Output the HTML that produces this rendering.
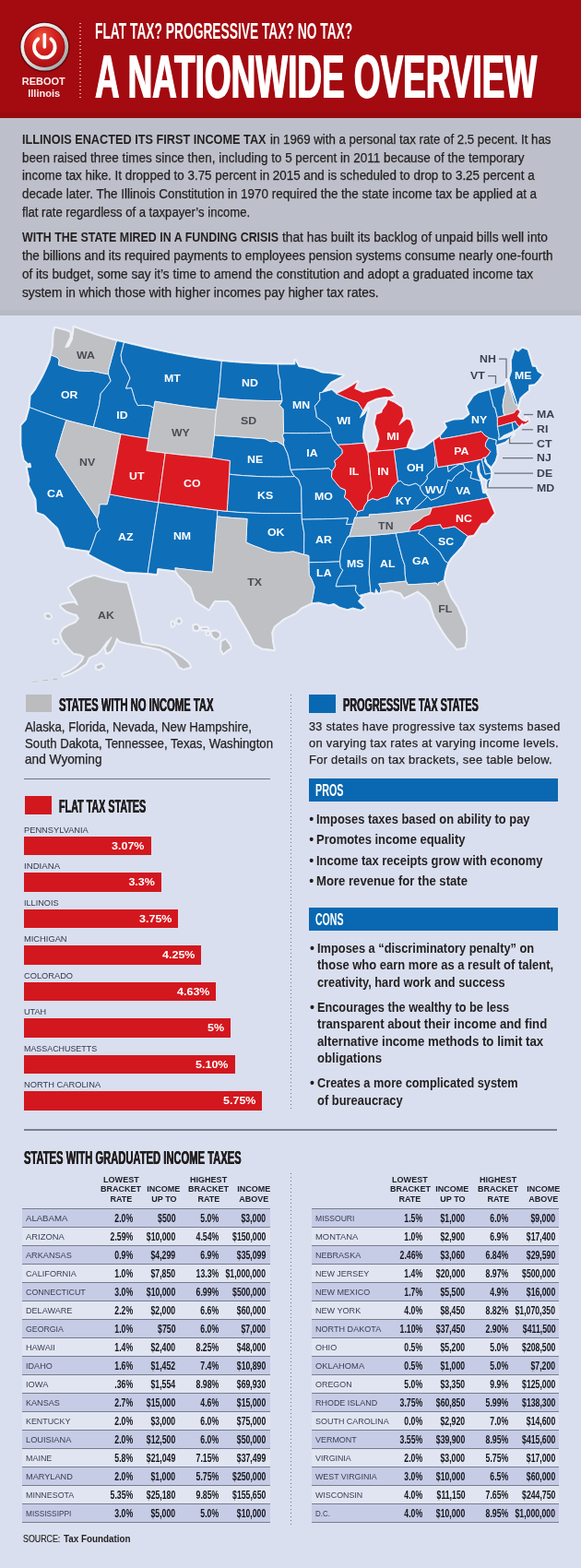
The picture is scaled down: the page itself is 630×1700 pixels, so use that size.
<!DOCTYPE html>
<html lang="en"><head><meta charset="utf-8"><title>Flat tax? Progressive tax? No tax? A nationwide overview</title>
<style>
html,body{margin:0;padding:0;}
body{width:630px;height:1700px;position:relative;overflow:hidden;background:#d9dfee;font-family:"Liberation Sans", sans-serif;color:#231f20;}
.t{position:absolute;white-space:pre;line-height:1;}
b{font-weight:700}
</style></head><body>
<div style="position:absolute;left:0px;top:0px;width:630px;height:127.6px;background:#a30b10;background:linear-gradient(to bottom,#a30b10 0,#a30b10 94.5%,#990a0e 96%,#990a0e 100%);"></div>
<div style="position:absolute;left:0px;top:127.5px;width:630px;height:214.6px;background:#bdc0ca;background:linear-gradient(to bottom,#bdc0ca 0,#bdc0ca 96.5%,#b7bac4 98%,#b7bac4 100%);"></div>
<div style="position:absolute;left:86.4px;top:25px;width:1.3px;height:82px;background:repeating-linear-gradient(to bottom,rgba(255,200,195,.8) 0 1.4px,transparent 1.4px 4px)"></div>
<svg style="position:absolute;left:18px;top:20px" width="62" height="62" viewBox="18 20 62 62">
<defs>
<radialGradient id="lg1" cx="0.42" cy="0.25" r="0.8"><stop offset="0" stop-color="#f0553c"/><stop offset="0.45" stop-color="#d4201f"/><stop offset="1" stop-color="#a50e13"/></radialGradient>
<linearGradient id="lg2" x1="0" y1="0" x2="1" y2="1"><stop offset="0" stop-color="#ffffff"/><stop offset="0.5" stop-color="#d9dcdd"/><stop offset="1" stop-color="#8f9496"/></linearGradient>
</defs>
<circle cx="48.3" cy="51" r="27.3" fill="#3a0405" opacity="0.6"/>
<circle cx="48.3" cy="50.7" r="25.9" fill="url(#lg2)"/>
<circle cx="48.3" cy="50.7" r="22.2" fill="#8d0b0f"/>
<circle cx="48.3" cy="50.7" r="21.4" fill="url(#lg1)"/>
<path d="M41.3 42.3 A11.3 11.3 0 1 0 55.3 42.3" fill="none" stroke="#fff" stroke-width="3.8" stroke-linecap="round"/>
<line x1="48.3" y1="37.6" x2="48.3" y2="51" stroke="#fff" stroke-width="3.6" stroke-linecap="round"/>
</svg>
<div style="position:absolute;left:27.8px;top:752.6px;width:28.4px;height:19.9px;background:#bbbcbe;"></div>
<div style="position:absolute;left:26.4px;top:844.3px;width:266.2px;height:1px;background:#6f7384;"></div>
<div style="position:absolute;left:27.1px;top:862.8px;width:29.1px;height:20.1px;background:#d3171e;"></div>
<div style="position:absolute;left:25.7px;top:906.6px;width:138.60000000000002px;height:20.6px;background:#d3171e;"></div>
<div style="position:absolute;left:25.7px;top:946.1px;width:149.3px;height:20.6px;background:#d3171e;"></div>
<div style="position:absolute;left:25.7px;top:985.6px;width:167.8px;height:20.6px;background:#d3171e;"></div>
<div style="position:absolute;left:25.7px;top:1025.1px;width:192.8px;height:20.6px;background:#d3171e;"></div>
<div style="position:absolute;left:25.7px;top:1064.6px;width:208.3px;height:20.6px;background:#d3171e;"></div>
<div style="position:absolute;left:25.7px;top:1104.1px;width:224.3px;height:20.6px;background:#d3171e;"></div>
<div style="position:absolute;left:25.7px;top:1143.6px;width:229.3px;height:20.6px;background:#d3171e;"></div>
<div style="position:absolute;left:25.7px;top:1183.1px;width:258.3px;height:20.6px;background:#d3171e;"></div>
<div style="position:absolute;left:335px;top:752.9px;width:29px;height:20.2px;background:#0968b1;"></div>
<div style="position:absolute;left:334.6px;top:844.3px;width:270.6px;height:24.8px;background:#0968b1;"></div>
<div style="position:absolute;left:334.6px;top:983.9px;width:270.6px;height:24.8px;background:#0968b1;"></div>
<div style="position:absolute;left:314.7px;top:753.3px;width:1.3px;height:449.5px;background:repeating-linear-gradient(to bottom,#6b7183 0 1.3px,transparent 1.3px 4px)"></div>
<div style="position:absolute;left:314.7px;top:1271.6px;width:1.3px;height:381px;background:repeating-linear-gradient(to bottom,#6b7183 0 1.3px,transparent 1.3px 4px)"></div>
<div style="position:absolute;left:26px;top:1224.4px;width:577.5px;height:1.3px;background:#7b7f8e;"></div>
<div style="position:absolute;left:24.3px;top:1310.4px;width:268.3px;height:20.0px;background:#c6cce5;"></div>
<div style="position:absolute;left:24.3px;top:1330.4px;width:268.3px;height:20.0px;background:#e0e5f1;"></div>
<div style="position:absolute;left:24.3px;top:1350.4px;width:268.3px;height:20.0px;background:#c6cce5;"></div>
<div style="position:absolute;left:24.3px;top:1370.4px;width:268.3px;height:20.0px;background:#e0e5f1;"></div>
<div style="position:absolute;left:24.3px;top:1390.4px;width:268.3px;height:20.0px;background:#c6cce5;"></div>
<div style="position:absolute;left:24.3px;top:1410.4px;width:268.3px;height:20.0px;background:#e0e5f1;"></div>
<div style="position:absolute;left:24.3px;top:1430.4px;width:268.3px;height:20.0px;background:#c6cce5;"></div>
<div style="position:absolute;left:24.3px;top:1450.4px;width:268.3px;height:20.0px;background:#e0e5f1;"></div>
<div style="position:absolute;left:24.3px;top:1470.4px;width:268.3px;height:20.0px;background:#c6cce5;"></div>
<div style="position:absolute;left:24.3px;top:1490.4px;width:268.3px;height:20.0px;background:#e0e5f1;"></div>
<div style="position:absolute;left:24.3px;top:1510.4px;width:268.3px;height:20.0px;background:#c6cce5;"></div>
<div style="position:absolute;left:24.3px;top:1530.4px;width:268.3px;height:20.0px;background:#e0e5f1;"></div>
<div style="position:absolute;left:24.3px;top:1550.4px;width:268.3px;height:20.0px;background:#c6cce5;"></div>
<div style="position:absolute;left:24.3px;top:1570.4px;width:268.3px;height:20.0px;background:#e0e5f1;"></div>
<div style="position:absolute;left:24.3px;top:1590.4px;width:268.3px;height:20.0px;background:#c6cce5;"></div>
<div style="position:absolute;left:24.3px;top:1610.4px;width:268.3px;height:20.0px;background:#e0e5f1;"></div>
<div style="position:absolute;left:24.3px;top:1630.4px;width:268.3px;height:20.0px;background:#c6cce5;"></div>
<div style="position:absolute;left:24.3px;top:1309.9px;width:268.3px;height:1px;background:#787c8e;"></div>
<div style="position:absolute;left:24.3px;top:1329.9px;width:268.3px;height:1px;background:#787c8e;"></div>
<div style="position:absolute;left:24.3px;top:1349.9px;width:268.3px;height:1px;background:#787c8e;"></div>
<div style="position:absolute;left:24.3px;top:1369.9px;width:268.3px;height:1px;background:#787c8e;"></div>
<div style="position:absolute;left:24.3px;top:1389.9px;width:268.3px;height:1px;background:#787c8e;"></div>
<div style="position:absolute;left:24.3px;top:1409.9px;width:268.3px;height:1px;background:#787c8e;"></div>
<div style="position:absolute;left:24.3px;top:1429.9px;width:268.3px;height:1px;background:#787c8e;"></div>
<div style="position:absolute;left:24.3px;top:1449.9px;width:268.3px;height:1px;background:#787c8e;"></div>
<div style="position:absolute;left:24.3px;top:1469.9px;width:268.3px;height:1px;background:#787c8e;"></div>
<div style="position:absolute;left:24.3px;top:1489.9px;width:268.3px;height:1px;background:#787c8e;"></div>
<div style="position:absolute;left:24.3px;top:1509.9px;width:268.3px;height:1px;background:#787c8e;"></div>
<div style="position:absolute;left:24.3px;top:1529.9px;width:268.3px;height:1px;background:#787c8e;"></div>
<div style="position:absolute;left:24.3px;top:1549.9px;width:268.3px;height:1px;background:#787c8e;"></div>
<div style="position:absolute;left:24.3px;top:1569.9px;width:268.3px;height:1px;background:#787c8e;"></div>
<div style="position:absolute;left:24.3px;top:1589.9px;width:268.3px;height:1px;background:#787c8e;"></div>
<div style="position:absolute;left:24.3px;top:1609.9px;width:268.3px;height:1px;background:#787c8e;"></div>
<div style="position:absolute;left:24.3px;top:1629.9px;width:268.3px;height:1px;background:#787c8e;"></div>
<div style="position:absolute;left:24.3px;top:1649.9px;width:268.3px;height:1px;background:#787c8e;"></div>
<div style="position:absolute;left:338.3px;top:1310.4px;width:267.99999999999994px;height:20.0px;background:#c6cce5;"></div>
<div style="position:absolute;left:338.3px;top:1330.4px;width:267.99999999999994px;height:20.0px;background:#e0e5f1;"></div>
<div style="position:absolute;left:338.3px;top:1350.4px;width:267.99999999999994px;height:20.0px;background:#c6cce5;"></div>
<div style="position:absolute;left:338.3px;top:1370.4px;width:267.99999999999994px;height:20.0px;background:#e0e5f1;"></div>
<div style="position:absolute;left:338.3px;top:1390.4px;width:267.99999999999994px;height:20.0px;background:#c6cce5;"></div>
<div style="position:absolute;left:338.3px;top:1410.4px;width:267.99999999999994px;height:20.0px;background:#e0e5f1;"></div>
<div style="position:absolute;left:338.3px;top:1430.4px;width:267.99999999999994px;height:20.0px;background:#c6cce5;"></div>
<div style="position:absolute;left:338.3px;top:1450.4px;width:267.99999999999994px;height:20.0px;background:#e0e5f1;"></div>
<div style="position:absolute;left:338.3px;top:1470.4px;width:267.99999999999994px;height:20.0px;background:#c6cce5;"></div>
<div style="position:absolute;left:338.3px;top:1490.4px;width:267.99999999999994px;height:20.0px;background:#e0e5f1;"></div>
<div style="position:absolute;left:338.3px;top:1510.4px;width:267.99999999999994px;height:20.0px;background:#c6cce5;"></div>
<div style="position:absolute;left:338.3px;top:1530.4px;width:267.99999999999994px;height:20.0px;background:#e0e5f1;"></div>
<div style="position:absolute;left:338.3px;top:1550.4px;width:267.99999999999994px;height:20.0px;background:#c6cce5;"></div>
<div style="position:absolute;left:338.3px;top:1570.4px;width:267.99999999999994px;height:20.0px;background:#e0e5f1;"></div>
<div style="position:absolute;left:338.3px;top:1590.4px;width:267.99999999999994px;height:20.0px;background:#c6cce5;"></div>
<div style="position:absolute;left:338.3px;top:1610.4px;width:267.99999999999994px;height:20.0px;background:#e0e5f1;"></div>
<div style="position:absolute;left:338.3px;top:1630.4px;width:267.99999999999994px;height:20.0px;background:#c6cce5;"></div>
<div style="position:absolute;left:338.3px;top:1309.9px;width:267.99999999999994px;height:1px;background:#787c8e;"></div>
<div style="position:absolute;left:338.3px;top:1329.9px;width:267.99999999999994px;height:1px;background:#787c8e;"></div>
<div style="position:absolute;left:338.3px;top:1349.9px;width:267.99999999999994px;height:1px;background:#787c8e;"></div>
<div style="position:absolute;left:338.3px;top:1369.9px;width:267.99999999999994px;height:1px;background:#787c8e;"></div>
<div style="position:absolute;left:338.3px;top:1389.9px;width:267.99999999999994px;height:1px;background:#787c8e;"></div>
<div style="position:absolute;left:338.3px;top:1409.9px;width:267.99999999999994px;height:1px;background:#787c8e;"></div>
<div style="position:absolute;left:338.3px;top:1429.9px;width:267.99999999999994px;height:1px;background:#787c8e;"></div>
<div style="position:absolute;left:338.3px;top:1449.9px;width:267.99999999999994px;height:1px;background:#787c8e;"></div>
<div style="position:absolute;left:338.3px;top:1469.9px;width:267.99999999999994px;height:1px;background:#787c8e;"></div>
<div style="position:absolute;left:338.3px;top:1489.9px;width:267.99999999999994px;height:1px;background:#787c8e;"></div>
<div style="position:absolute;left:338.3px;top:1509.9px;width:267.99999999999994px;height:1px;background:#787c8e;"></div>
<div style="position:absolute;left:338.3px;top:1529.9px;width:267.99999999999994px;height:1px;background:#787c8e;"></div>
<div style="position:absolute;left:338.3px;top:1549.9px;width:267.99999999999994px;height:1px;background:#787c8e;"></div>
<div style="position:absolute;left:338.3px;top:1569.9px;width:267.99999999999994px;height:1px;background:#787c8e;"></div>
<div style="position:absolute;left:338.3px;top:1589.9px;width:267.99999999999994px;height:1px;background:#787c8e;"></div>
<div style="position:absolute;left:338.3px;top:1609.9px;width:267.99999999999994px;height:1px;background:#787c8e;"></div>
<div style="position:absolute;left:338.3px;top:1629.9px;width:267.99999999999994px;height:1px;background:#787c8e;"></div>
<div style="position:absolute;left:338.3px;top:1649.9px;width:267.99999999999994px;height:1px;background:#787c8e;"></div>
<svg style="position:absolute;left:0;top:342px" width="630" height="400" viewBox="0 342 630 400">
<g fill="#fff" stroke="#fff" stroke-width="3.2" stroke-linejoin="round" opacity="0.55">
<path d="M55.4,385.0L58.3,386.1L61.1,387.2L64.2,389.9L63.5,395.7L67.5,397.0L71.6,398.3L75.6,399.5L80.1,400.7L84.6,401.8L88.4,402.1L92.2,402.3L96.0,402.6L99.2,402.1L102.8,402.9L106.5,403.6L110.2,404.4L113.9,405.1L117.6,405.8L120.2,413.0L117.6,416.3L115.1,419.6L112.2,423.2L109.2,426.7L108.3,433.7L107.5,439.2L105.9,445.2L104.4,451.2L102.8,457.1L101.3,463.0L96.4,461.8L91.4,460.6L86.5,459.3L81.5,458.1L76.7,456.8L71.8,455.5L67.3,454.1L62.8,452.7L58.3,451.2L53.9,449.7L49.5,448.1L45.1,446.6L40.8,445.0L36.4,443.3L32.1,441.7L32.6,435.5L33.1,429.3L35.7,426.0L38.2,422.8L41.4,417.1L44.6,411.5L46.9,407.0L49.1,402.4L51.7,396.5L54.2,390.6Z"/>
<path d="M32.1,441.7L36.4,443.3L40.8,445.0L45.1,446.6L49.5,448.1L53.9,449.7L58.3,451.2L62.8,452.7L67.3,454.1L71.8,455.5L69.8,462.0L67.8,468.4L65.9,474.8L64.0,481.2L62.2,487.7L60.4,494.2L64.2,500.4L68.2,506.6L72.3,512.8L76.4,519.0L80.6,525.2L84.7,531.4L88.9,537.5L93.1,543.7L97.2,549.8L101.2,555.9L105.3,562.2L106.0,566.6L106.7,571.2L108.6,573.9L104.5,578.0L102.0,585.7L99.8,591.6L97.6,597.4L92.2,596.8L86.8,596.0L81.4,595.1L76.1,594.1L70.7,593.1L69.7,590.2L67.3,584.2L64.8,578.1L62.4,572.1L59.5,569.4L56.6,566.7L52.3,562.5L48.1,558.3L43.9,556.8L39.8,555.2L39.3,548.1L38.9,541.1L36.2,535.7L33.6,530.3L31.0,525.0L32.1,520.9L30.6,513.8L29.2,506.8L33.7,506.7L32.8,502.0L30.4,502.7L26.1,498.5L24.5,491.0L23.0,483.5L22.9,476.2L22.9,468.9L22.9,461.5L25.6,458.4L28.3,455.2L30.2,448.5Z"/>
<path d="M126.4,369.4L130.4,370.3L134.5,371.2L132.8,377.9L131.1,384.7L131.7,388.8L132.3,392.9L135.0,397.1L137.2,401.6L139.5,406.0L141.0,410.0L139.4,413.9L137.8,417.9L136.6,421.1L139.6,420.8L142.5,420.5L144.0,425.3L145.4,430.1L146.4,433.9L149.4,439.6L152.2,439.4L155.0,439.1L158.9,439.5L162.8,439.9L166.8,442.4L165.6,449.1L164.4,455.8L163.3,462.4L162.1,469.0L161.0,475.5L156.0,474.8L151.0,474.1L146.0,473.3L141.0,472.5L136.0,471.6L131.1,470.6L126.1,469.4L121.2,468.2L116.2,466.9L111.3,465.6L106.3,464.3L101.3,463.0L102.8,457.1L104.4,451.2L105.9,445.2L107.5,439.2L108.3,433.7L109.2,426.7L112.2,423.2L115.1,419.6L117.6,416.3L120.2,413.0L117.6,405.8L117.6,401.4L119.4,395.0L121.1,388.5L122.9,382.1L124.6,375.7Z"/>
<path d="M134.5,371.2L138.7,372.2L143.0,373.3L147.3,374.3L151.6,375.3L155.9,376.4L160.3,377.4L164.7,378.4L169.1,379.4L173.5,380.3L177.9,381.2L182.4,382.2L186.8,383.0L191.3,383.9L195.8,384.7L200.2,385.5L204.7,386.3L209.2,387.0L213.6,387.8L218.1,388.5L222.6,389.1L227.0,389.7L231.5,390.3L235.9,390.9L240.4,391.4L239.9,397.1L239.4,402.8L239.0,408.5L238.5,414.2L238.0,419.9L237.4,425.6L236.7,431.5L235.7,437.8L234.7,444.3L230.0,443.8L225.4,443.3L220.7,442.8L216.0,442.3L211.2,441.7L206.4,441.1L201.7,440.4L196.9,439.8L192.1,439.1L187.3,438.3L182.5,437.6L177.7,436.8L172.9,436.0L168.1,435.2L167.4,438.8L166.8,442.4L162.8,439.9L158.9,439.5L155.0,439.1L152.2,439.4L149.4,439.6L146.4,433.9L145.4,430.1L144.0,425.3L142.5,420.5L139.6,420.8L136.6,421.1L137.8,417.9L139.4,413.9L141.0,410.0L139.5,406.0L137.2,401.6L135.0,397.1L132.3,392.9L131.7,388.8L131.1,384.7L132.8,377.9Z"/>
<path d="M118.9,535.9L124.3,536.9L129.6,537.9L134.9,538.9L140.1,539.8L145.4,540.7L150.7,541.5L156.0,542.3L161.3,543.1L166.6,543.9L171.9,544.6L170.9,551.0L169.9,557.4L168.9,563.9L167.9,570.3L166.9,576.8L166.0,583.2L165.0,589.7L164.0,596.1L163.0,602.5L162.1,608.8L161.1,615.2L160.2,621.6L155.4,621.3L150.7,621.0L145.9,620.8L141.1,620.5L136.4,620.3L131.2,618.1L126.1,615.8L120.9,613.5L115.9,611.1L110.8,608.7L105.8,606.1L100.9,603.4L96.0,600.5L97.6,597.4L99.8,591.6L102.0,585.7L104.5,578.0L108.6,573.9L106.7,571.2L106.0,566.6L105.3,562.2L107.5,555.1L107.7,550.9L107.9,546.7L112.0,546.7L116.1,546.8L117.5,541.3Z"/>
<path d="M171.9,544.6L176.8,545.3L181.7,546.0L186.6,546.6L191.6,547.3L196.5,548.0L201.4,548.6L206.4,549.3L211.3,550.0L216.2,550.7L221.2,551.3L226.1,552.0L231.1,552.6L236.0,553.2L235.5,559.9L235.0,566.6L234.4,573.2L233.9,579.9L233.4,586.6L232.8,593.3L232.3,600.1L231.8,606.8L231.2,613.6L230.7,620.3L225.6,619.9L220.5,619.4L215.4,618.9L210.3,618.3L205.2,617.7L200.1,617.1L195.0,616.5L189.9,615.8L190.6,619.0L185.7,618.3L180.8,617.7L175.9,617.1L170.9,616.5L170.1,622.6L165.2,622.1L160.2,621.6L161.1,615.2L162.1,608.8L163.0,602.5L164.0,596.1L165.0,589.7L166.0,583.2L166.9,576.8L167.9,570.3L168.9,563.9L169.9,557.4L170.9,551.0Z"/>
<path d="M240.4,391.4L244.7,391.8L249.1,392.2L253.4,392.6L257.8,392.9L262.1,393.2L266.5,393.5L270.8,393.7L275.1,394.0L279.5,394.2L283.8,394.4L288.2,394.5L292.5,394.7L296.9,394.8L301.3,394.9L301.6,400.0L302.0,405.2L302.9,409.0L303.9,412.9L303.9,417.4L304.0,421.9L304.8,425.9L305.6,429.8L305.9,434.7L301.2,434.6L296.6,434.6L291.9,434.6L287.3,434.5L282.7,434.4L278.1,434.3L273.5,434.1L268.8,433.9L264.2,433.7L259.7,433.4L255.1,433.1L250.5,432.7L245.9,432.3L241.3,431.9L236.7,431.5L237.4,425.6L238.0,419.9L238.5,414.2L239.0,408.5L239.4,402.8L239.9,397.1Z"/>
<path d="M232.4,471.8L236.9,472.2L241.3,472.5L245.7,472.8L250.2,473.1L254.7,473.4L259.3,473.7L263.9,474.1L268.5,474.4L273.1,474.7L277.8,475.1L282.4,475.4L287.1,475.7L290.1,477.2L293.2,478.8L296.7,478.6L300.3,478.4L305.4,481.4L308.0,483.6L309.9,487.7L311.8,491.8L312.8,495.9L313.7,499.9L314.6,506.5L315.3,509.4L317.3,513.5L319.6,516.6L314.7,516.8L309.7,516.9L304.7,517.0L299.6,517.0L294.5,516.9L289.3,516.8L284.2,516.7L279.0,516.5L273.9,516.2L268.8,515.9L263.7,515.6L258.6,515.2L253.6,514.7L248.6,514.1L248.9,506.8L249.3,499.5L244.3,498.8L239.3,498.0L234.4,497.2L229.5,496.4L230.2,490.1L231.0,484.0L231.7,478.0Z"/>
<path d="M248.6,514.1L253.6,514.7L258.6,515.2L263.7,515.6L268.8,515.9L273.9,516.2L279.0,516.5L284.2,516.7L289.3,516.8L294.5,516.9L299.6,517.0L304.7,517.0L309.7,516.9L314.7,516.8L319.6,516.6L323.7,519.8L325.2,524.1L326.8,528.4L326.8,534.0L326.9,539.6L327.0,545.2L327.1,550.8L327.2,556.5L321.7,556.5L316.2,556.6L310.8,556.6L305.3,556.6L299.9,556.6L294.5,556.6L289.1,556.6L283.7,556.5L278.3,556.3L272.9,556.1L267.5,555.9L262.2,555.6L256.8,555.3L251.5,554.8L246.2,554.3L246.6,547.7L247.0,541.1L247.4,534.5L247.8,527.8L248.2,521.1Z"/>
<path d="M236.0,553.2L241.1,553.8L246.2,554.3L251.5,554.8L256.8,555.3L262.2,555.6L267.5,555.9L272.9,556.1L278.3,556.3L283.7,556.5L289.1,556.6L294.5,556.6L299.9,556.6L305.3,556.6L310.8,556.6L316.2,556.6L321.7,556.5L327.2,556.5L327.3,563.1L328.1,568.0L328.9,572.9L329.8,577.8L329.8,583.7L329.7,589.6L329.7,595.4L329.7,601.3L325.7,600.2L321.8,599.0L317.9,597.9L312.1,598.6L306.4,599.2L302.3,599.2L298.3,599.1L294.3,598.4L290.3,597.6L286.9,596.2L283.6,594.8L279.6,593.3L275.7,591.9L271.3,590.0L266.8,588.0L267.1,581.6L267.4,575.2L267.7,568.9L268.0,562.5L262.5,562.2L257.1,561.9L251.7,561.5L246.3,561.0L240.9,560.5L235.5,559.9Z"/>
<path d="M301.3,394.9L305.0,395.0L308.7,395.0L312.4,395.0L316.2,395.0L319.9,395.0L320.0,390.1L322.0,393.8L324.0,397.6L327.8,398.2L331.7,398.9L335.6,399.5L339.5,400.1L344.1,402.0L348.8,403.9L352.5,404.3L356.2,404.6L360.0,405.0L364.1,405.7L368.2,406.4L372.3,407.1L367.7,409.6L363.1,412.0L358.5,414.4L355.4,418.1L352.3,421.7L349.2,425.4L346.6,425.9L346.7,429.7L346.9,433.5L344.2,437.0L341.4,440.4L342.2,444.6L343.0,448.7L343.2,452.2L347.5,455.3L351.8,458.3L355.0,461.0L358.1,463.7L359.2,469.1L354.5,469.3L349.8,469.4L345.1,469.5L340.4,469.6L335.7,469.6L331.1,469.7L326.4,469.7L321.7,469.7L317.0,469.7L312.3,469.6L307.6,469.6L307.4,463.1L307.2,456.6L307.1,450.2L307.0,443.7L303.2,439.4L305.9,434.7L305.6,429.8L304.8,425.9L304.0,421.9L303.9,417.4L303.9,412.9L302.9,409.0L302.0,405.2L301.6,400.0Z"/>
<path d="M307.6,469.6L312.3,469.6L317.0,469.7L321.7,469.7L326.4,469.7L331.1,469.7L335.7,469.6L340.4,469.6L345.1,469.5L349.8,469.4L354.5,469.3L359.2,469.1L360.9,475.8L366.0,482.3L371.0,487.4L371.3,491.4L367.5,495.6L362.6,499.8L363.9,503.7L363.1,506.4L360.0,510.8L356.6,507.9L351.9,508.1L347.3,508.3L342.7,508.4L338.0,508.6L333.4,508.7L328.9,508.9L324.3,509.0L319.8,509.2L315.3,509.4L314.6,506.5L313.7,499.9L312.8,495.9L311.8,491.8L309.9,487.7L308.0,483.6L307.4,480.7L307.8,476.6L306.2,472.3Z"/>
<path d="M315.3,509.4L319.8,509.2L324.3,509.0L328.9,508.9L333.4,508.7L338.0,508.6L342.7,508.4L347.3,508.3L351.9,508.1L356.6,507.9L360.0,510.8L359.5,517.2L361.3,519.7L365.0,524.2L368.8,528.7L374.4,531.1L374.7,534.5L373.4,539.2L378.6,543.0L381.1,546.8L383.7,550.7L387.9,554.5L386.6,559.3L384.6,561.4L383.7,564.9L382.9,568.3L379.1,568.4L375.4,568.6L377.3,561.8L371.8,562.1L366.2,562.3L360.7,562.5L355.1,562.6L349.5,562.8L344.0,562.9L338.4,563.0L332.8,563.1L327.3,563.1L327.2,556.5L327.1,550.8L327.0,545.2L326.9,539.6L326.8,534.0L326.8,528.4L325.2,524.1L323.7,519.8L319.6,516.6L317.3,513.5Z"/>
<path d="M327.3,563.1L332.8,563.1L338.4,563.0L344.0,562.9L349.5,562.8L355.1,562.6L360.7,562.5L366.2,562.3L371.8,562.1L377.3,561.8L375.4,568.6L379.1,568.4L382.9,568.3L381.0,573.7L379.2,580.5L377.0,581.9L374.0,588.7L371.9,592.8L369.8,596.9L369.2,602.9L368.5,608.9L362.9,609.1L357.3,609.3L351.7,609.5L346.1,609.6L340.5,609.7L334.9,609.8L334.9,606.1L334.8,602.5L329.7,601.3L329.7,595.4L329.7,589.6L329.8,583.7L329.8,577.8L328.9,572.9L328.1,568.0Z"/>
<path d="M334.9,609.8L340.5,609.7L346.1,609.6L351.7,609.5L357.3,609.3L362.9,609.1L368.5,608.9L369.4,615.6L371.8,618.1L369.0,623.2L366.3,628.4L365.2,632.1L364.2,635.8L369.7,635.6L375.2,635.3L380.6,635.0L386.1,634.8L385.5,640.1L389.0,645.5L391.7,647.8L388.4,652.0L392.1,655.5L395.8,659.0L391.2,661.3L387.0,660.2L382.7,659.0L376.8,660.7L372.6,659.5L368.4,658.3L362.3,654.5L356.4,655.7L351.0,654.3L345.6,653.0L341.7,653.4L337.8,653.8L338.7,649.8L339.5,645.7L340.3,641.1L341.1,636.4L339.6,632.4L338.1,628.4L335.2,623.3L335.1,618.8L335.0,614.3Z"/>
<path d="M377.0,581.9L374.0,588.7L371.9,592.8L369.8,596.9L369.2,602.9L368.5,608.9L369.4,615.6L371.8,618.1L369.0,623.2L366.3,628.4L365.2,632.1L364.2,635.8L369.7,635.6L375.2,635.3L380.6,635.0L386.1,634.8L385.5,640.1L389.0,645.5L393.4,644.4L397.7,643.3L402.0,642.1L401.5,637.1L401.0,632.0L400.6,626.9L400.1,621.8L400.4,615.2L400.8,608.5L401.1,601.9L401.4,595.2L401.7,588.5L401.9,581.8L400.7,580.6L396.0,580.9L391.3,581.2L386.6,581.5L381.8,581.7Z"/>
<path d="M400.7,580.6L401.9,581.8L401.7,588.5L401.4,595.2L401.1,601.9L400.8,608.5L400.4,615.2L400.1,621.8L400.6,626.9L401.0,632.0L401.5,637.1L402.0,642.1L406.7,643.4L407.6,638.6L410.2,643.1L412.3,642.5L413.4,638.1L410.7,633.0L415.7,632.6L420.7,632.1L425.6,631.6L430.6,631.1L435.5,630.6L440.4,630.1L439.3,623.5L439.1,618.1L438.9,612.8L437.6,609.2L436.2,605.5L434.8,600.0L433.4,594.5L431.9,589.0L430.5,583.5L429.0,577.9L424.3,578.5L419.6,579.0L414.9,579.4L410.2,579.8L405.5,580.2Z"/>
<path d="M387.9,554.5L390.8,553.7L393.8,552.8L395.0,548.7L398.8,543.0L404.0,540.5L409.0,542.1L412.1,540.7L415.2,539.4L420.5,538.1L422.7,534.2L425.7,528.0L428.6,524.9L431.4,521.8L434.6,521.4L438.2,525.0L443.7,526.2L447.3,525.1L450.9,524.0L455.6,527.5L456.0,530.4L460.0,536.6L463.7,538.2L460.3,541.8L456.8,545.3L452.0,549.5L447.3,553.7L442.6,554.3L437.9,554.8L433.2,555.4L427.8,555.9L422.5,556.4L417.1,556.9L412.9,557.2L408.7,557.5L404.5,557.7L400.3,558.0L400.6,560.4L395.3,560.8L389.9,561.1L384.6,561.4L386.6,559.3Z"/>
<path d="M427.1,487.5L431.7,486.7L436.3,486.0L440.9,485.2L445.0,486.5L449.1,487.8L454.1,486.7L459.2,485.6L462.9,482.9L466.6,480.2L470.2,477.6L471.1,483.3L472.0,489.0L472.9,494.8L471.7,495.5L472.1,502.0L471.3,507.5L468.5,509.9L465.7,512.4L463.0,515.6L463.5,518.9L459.4,524.4L455.6,527.5L450.9,524.0L447.3,525.1L443.7,526.2L438.2,525.0L434.6,521.4L431.4,521.8L430.7,516.1L430.0,510.3L429.3,504.6L428.5,498.9L427.8,493.2Z"/>
<path d="M349.2,425.4L352.7,424.4L356.3,423.4L359.8,422.5L364.6,426.8L369.0,428.7L373.4,430.7L377.8,432.6L382.8,434.3L387.8,436.0L391.3,441.2L393.6,445.1L392.0,449.0L390.3,452.9L395.0,449.1L399.3,442.6L398.2,447.4L397.0,452.3L395.8,457.2L394.3,462.7L393.8,468.2L393.3,473.6L394.2,477.0L395.1,480.3L390.2,480.7L385.3,481.1L380.5,481.5L375.6,481.8L370.8,482.1L366.0,482.3L360.9,475.8L359.2,469.1L358.1,463.7L355.0,461.0L351.8,458.3L347.5,455.3L343.2,452.2L343.0,448.7L342.2,444.6L341.4,440.4L344.2,437.0L346.9,433.5L346.7,429.7L346.6,425.9Z"/>
<path d="M429.0,577.9L433.6,577.4L438.2,576.8L442.8,576.1L447.2,575.5L451.6,574.9L456.0,574.2L453.8,578.6L459.0,581.2L462.2,584.8L465.4,588.4L471.0,593.0L476.7,598.3L479.6,603.3L482.6,608.3L485.7,610.2L484.3,614.7L482.9,619.2L482.1,624.1L481.3,628.9L478.3,630.5L475.3,632.0L475.1,634.6L473.0,632.0L467.9,632.4L462.8,632.7L457.7,633.1L452.6,633.4L447.5,633.6L442.4,633.9L440.4,630.1L439.3,623.5L439.1,618.1L438.9,612.8L437.6,609.2L436.2,605.5L434.8,600.0L433.4,594.5L431.9,589.0L430.5,583.5Z"/>
<path d="M456.0,574.2L459.6,572.3L463.2,570.4L468.0,569.8L472.9,569.3L477.7,568.7L477.9,570.0L480.0,573.1L484.4,572.4L488.7,571.6L493.1,570.8L497.8,574.3L502.5,577.8L507.3,581.2L504.4,586.3L501.6,591.4L498.2,595.1L494.8,598.8L492.1,601.6L489.4,604.5L485.7,610.2L482.6,608.3L479.6,603.3L476.7,598.3L471.0,593.0L465.4,588.4L462.2,584.8L459.0,581.2L453.8,578.6Z"/>
<path d="M463.7,538.2L467.3,542.2L470.8,541.0L474.3,539.7L477.7,537.7L481.2,535.7L482.7,530.5L484.3,525.3L485.8,520.2L489.7,521.7L493.4,516.4L495.8,514.4L498.2,512.3L500.7,511.0L503.2,509.7L503.9,507.0L508.9,511.0L511.7,511.8L510.1,518.2L514.5,519.4L517.9,520.4L521.2,521.4L522.2,526.6L522.9,530.6L523.7,534.6L527.0,534.8L529.5,539.5L524.4,540.6L519.4,541.6L514.3,542.5L509.2,543.5L504.1,544.4L499.1,545.3L494.0,546.2L488.9,547.1L483.8,547.9L478.7,548.8L473.6,549.6L468.4,550.4L463.2,551.3L457.9,552.1L452.6,552.9L447.3,553.7L452.0,549.5L456.8,545.3L460.3,541.8ZM527.0,532.2L527.7,526.4L528.3,520.6L532.0,518.7L530.8,522.5L529.7,526.4Z"/>
<path d="M472.9,494.8L473.8,500.7L474.7,506.6L478.2,506.0L481.8,505.5L485.3,504.9L485.8,508.3L486.3,511.7L490.7,507.6L495.5,504.8L498.3,503.2L502.5,503.5L503.9,507.0L503.2,509.7L500.7,511.0L498.2,512.3L495.8,514.4L493.4,516.4L489.7,521.7L485.8,520.2L484.3,525.3L482.7,530.5L481.2,535.7L477.7,537.7L474.3,539.7L470.8,541.0L467.3,542.2L463.7,538.2L460.0,536.6L456.0,530.4L455.6,527.5L459.4,524.4L463.5,518.9L463.0,515.6L465.7,512.4L468.5,509.9L471.3,507.5L472.1,502.0L471.7,495.5Z"/>
<path d="M485.3,504.9L490.0,504.1L494.6,503.3L499.3,502.5L503.9,501.7L508.5,500.8L513.2,499.9L517.7,498.9L522.4,497.9L523.6,503.3L524.9,508.7L526.2,514.1L529.5,513.4L532.9,512.8L532.0,518.7L528.3,520.6L523.8,518.1L520.1,512.1L519.6,506.8L519.8,502.1L517.4,505.9L517.8,509.9L518.3,513.8L519.7,517.6L521.2,521.4L517.9,520.4L514.5,519.4L510.1,518.2L511.7,511.8L508.9,511.0L503.9,507.0L502.5,503.5L498.3,503.2L495.5,504.8L490.7,507.6L486.3,511.7L485.8,508.3Z"/>
<path d="M522.4,497.9L524.0,496.1L526.1,496.1L525.3,500.3L527.5,503.8L531.5,508.3L532.9,512.8L529.5,513.4L526.2,514.1L524.9,508.7L523.6,503.3Z"/>
<path d="M529.8,474.6L534.0,475.9L538.3,477.1L537.8,481.3L538.6,484.4L538.9,488.7L539.2,493.0L537.2,499.6L535.0,502.9L532.7,506.3L528.2,502.3L526.1,496.1L528.6,494.2L531.8,489.5L526.3,484.1L526.6,480.1Z"/>
<path d="M530.7,422.4L526.6,423.7L522.5,424.9L518.5,426.0L516.0,427.8L513.5,429.5L509.9,435.0L506.2,440.5L507.7,444.8L509.2,449.0L505.8,451.8L502.3,454.4L497.3,454.8L492.2,455.0L488.8,456.1L485.5,457.2L482.1,458.3L484.6,463.5L481.0,468.0L477.3,472.6L477.9,476.1L482.8,475.2L487.7,474.4L492.7,473.5L497.6,472.6L502.5,471.7L507.4,470.8L512.3,469.8L517.2,468.8L522.0,467.8L525.8,472.2L529.8,474.6L534.0,475.9L538.3,477.1L537.8,481.3L538.3,482.5L543.1,480.9L547.8,479.2L551.1,476.4L554.4,473.5L557.6,470.5L554.2,472.4L550.8,474.2L547.5,475.2L544.2,476.2L540.8,477.1L540.7,476.5L541.3,472.2L540.4,467.3L539.4,462.3L539.4,457.4L539.3,452.5L538.0,447.1L536.7,441.8L535.2,441.5L533.7,435.1L532.2,428.8Z"/>
<path d="M530.7,422.4L534.8,421.2L539.0,420.0L543.1,418.7L547.3,417.4L547.8,420.9L548.3,424.5L546.0,432.4L545.1,439.9L545.9,446.9L546.7,450.5L543.0,451.5L539.3,452.5L538.0,447.1L536.7,441.8L535.2,441.5L533.7,435.1L532.2,428.8Z"/>
<path d="M550.0,412.3L552.1,418.9L554.1,425.5L556.0,431.4L557.9,437.3L561.6,440.7L559.7,434.6L557.8,428.5L555.9,422.4L554.0,416.3L552.1,410.2L554.7,402.2L554.5,396.5L554.3,390.8L556.3,384.7L558.2,378.6L562.0,381.1L564.3,379.1L566.5,377.2L569.4,378.3L572.2,379.4L573.9,385.3L575.7,391.2L577.4,397.2L580.9,397.4L583.2,403.1L588.2,406.0L586.1,409.1L584.0,412.2L581.7,414.5L579.5,416.8L576.6,417.1L573.7,417.4L573.5,423.3L570.3,425.8L567.1,428.4L564.0,431.6L562.6,437.1L561.6,440.7L559.3,435.0L557.0,429.3L554.6,423.7L552.3,418.0Z"/>
<path d="M539.4,462.3L543.4,461.3L547.3,460.2L551.2,459.1L555.1,458.0L556.0,462.6L556.8,467.3L553.4,468.9L549.9,470.5L546.3,472.1L543.5,474.3L540.7,476.5L541.3,472.2L540.4,467.3Z"/>
<path d="M555.1,458.0L559.0,456.7L559.4,458.3L563.1,462.8L560.0,465.6L556.8,467.3L556.0,462.6Z"/>
<path d="M80.2,354.4L79.6,360.1L79.0,364.2L78.3,368.4L76.4,372.1L74.5,375.8L70.7,376.6L73.4,370.9L76.1,365.3L76.1,360.2L73.2,359.0L70.4,357.9L66.8,357.1L63.3,356.2L59.7,355.4L58.1,361.9L57.8,368.5L57.6,375.2L56.5,380.1L55.4,385.0L58.3,386.1L61.1,387.2L64.2,389.9L63.5,395.7L67.5,397.0L71.6,398.3L75.6,399.5L80.1,400.7L84.6,401.8L88.4,402.1L92.2,402.3L96.0,402.6L99.2,402.1L102.8,402.9L106.5,403.6L110.2,404.4L113.9,405.1L117.6,405.8L117.6,401.4L119.4,395.0L121.1,388.5L122.9,382.1L124.6,375.7L126.4,369.4L122.5,368.4L118.6,367.3L114.8,366.2L111.0,365.1L107.2,363.9L103.4,362.7L99.6,361.4L95.8,360.1L91.9,358.8L88.1,357.4L84.2,355.9Z"/>
<path d="M71.8,455.5L76.7,456.8L81.5,458.1L86.5,459.3L91.4,460.6L96.4,461.8L101.3,463.0L106.3,464.3L111.3,465.6L116.2,466.9L121.2,468.2L126.1,469.4L131.1,470.6L129.8,477.1L128.5,483.6L127.4,490.0L126.2,496.5L125.1,502.9L123.9,509.5L122.8,516.0L121.6,522.6L120.3,529.2L118.9,535.9L117.5,541.3L116.1,546.8L112.0,546.7L107.9,546.7L107.7,550.9L107.5,555.1L105.3,562.2L101.2,555.9L97.2,549.8L93.1,543.7L88.9,537.5L84.7,531.4L80.6,525.2L76.4,519.0L72.3,512.8L68.2,506.6L64.2,500.4L60.4,494.2L62.2,487.7L64.0,481.2L65.9,474.8L67.8,468.4L69.8,462.0Z"/>
<path d="M168.1,435.2L172.9,436.0L177.7,436.8L182.5,437.6L187.3,438.3L192.1,439.1L196.9,439.8L201.7,440.4L206.4,441.1L211.2,441.7L216.0,442.3L220.7,442.8L225.4,443.3L230.0,443.8L234.7,444.3L234.0,451.3L233.4,458.3L233.0,465.2L232.4,471.8L231.7,478.0L231.0,484.0L230.2,490.1L229.5,496.4L224.5,495.9L219.6,495.4L214.6,494.9L209.6,494.5L204.5,494.0L199.5,493.5L194.4,493.0L189.4,492.4L184.3,491.8L179.2,491.3L174.2,490.6L169.1,490.0L164.0,489.3L158.9,488.6L160.0,482.1L161.0,475.5L162.1,469.0L163.3,462.4L164.4,455.8L165.6,449.1L166.8,442.4L167.4,438.8Z"/>
<path d="M236.7,431.5L241.3,431.9L245.9,432.3L250.5,432.7L255.1,433.1L259.7,433.4L264.2,433.7L268.8,433.9L273.5,434.1L278.1,434.3L282.7,434.4L287.3,434.5L291.9,434.6L296.6,434.6L301.2,434.6L305.9,434.7L303.2,439.4L307.0,443.7L307.1,450.2L307.2,456.6L307.4,463.1L307.6,469.6L306.2,472.3L307.8,476.6L307.4,480.7L308.0,483.6L305.4,481.4L300.3,478.4L296.7,478.6L293.2,478.8L290.1,477.2L287.1,475.7L282.4,475.4L277.8,475.1L273.1,474.7L268.5,474.4L263.9,474.1L259.3,473.7L254.7,473.4L250.2,473.1L245.7,472.8L241.3,472.5L236.9,472.2L232.4,471.8L232.9,465.3L233.4,458.5L233.9,451.7L234.6,444.8L235.7,438.1Z"/>
<path d="M235.5,559.9L240.9,560.5L246.3,561.0L251.7,561.5L257.1,561.9L262.5,562.2L268.0,562.5L267.7,568.9L267.4,575.2L267.1,581.6L266.8,588.0L271.3,590.0L275.7,591.9L279.6,593.3L283.6,594.8L286.9,596.2L290.3,597.6L294.3,598.4L298.3,599.1L302.3,599.2L306.4,599.2L312.1,598.6L317.9,597.9L321.8,599.0L325.7,600.2L329.7,601.3L334.8,602.5L334.9,606.1L334.9,609.8L335.0,614.3L335.1,618.8L335.2,623.3L338.1,628.4L339.6,632.4L341.1,636.4L340.3,641.1L339.5,645.7L338.7,649.8L337.8,653.8L332.2,656.5L326.5,659.2L320.5,664.6L316.1,666.8L311.6,669.0L307.2,671.2L302.3,675.2L297.3,679.2L294.7,685.8L295.2,691.2L295.7,696.6L296.5,700.6L297.4,704.6L293.0,704.1L288.7,703.6L284.4,703.1L280.1,700.7L275.9,698.3L273.1,692.5L270.2,686.7L266.5,680.3L262.7,674.0L259.0,667.6L256.3,662.5L253.6,657.3L248.0,651.4L242.8,651.5L237.7,651.5L232.6,651.4L229.5,656.1L226.4,660.9L221.5,657.6L216.6,654.4L211.7,651.1L210.0,646.2L208.4,641.3L206.7,636.3L202.4,632.2L198.1,628.1L193.9,623.9L190.6,619.0L189.9,615.8L195.0,616.5L200.1,617.1L205.2,617.7L210.3,618.3L215.4,618.9L220.5,619.4L225.6,619.9L230.7,620.3L231.2,613.6L231.8,606.8L232.3,600.1L232.8,593.3L233.4,586.6L233.9,579.9L234.4,573.2L235.0,566.6Z"/>
<path d="M384.6,561.4L389.9,561.1L395.3,560.8L400.6,560.4L400.3,558.0L404.5,557.7L408.7,557.5L412.9,557.2L417.1,556.9L422.5,556.4L427.8,555.9L433.2,555.4L437.9,554.8L442.6,554.3L447.3,553.7L452.6,552.9L457.9,552.1L463.2,551.3L468.4,550.4L465.9,557.6L462.8,558.8L459.7,560.0L454.8,564.2L451.8,566.0L448.7,567.8L445.7,570.3L442.8,576.1L438.2,576.8L433.6,577.4L429.0,577.9L424.3,578.5L419.6,579.0L414.9,579.4L410.2,579.8L405.5,580.2L400.7,580.6L396.0,580.9L391.3,581.2L386.6,581.5L381.8,581.7L377.0,581.9L379.2,580.5L381.0,573.7L382.9,568.3L383.7,564.9Z"/>
<path d="M412.3,642.5L416.2,641.8L420.1,641.0L424.0,640.1L429.3,641.5L434.6,642.9L438.0,648.2L443.1,645.8L448.1,643.4L453.1,640.9L456.9,643.9L460.7,646.8L466.1,653.1L467.7,658.4L469.4,663.7L471.0,669.0L474.3,674.6L477.6,680.1L480.9,685.7L485.4,692.0L490.4,697.8L495.6,703.6L499.8,702.7L504.0,701.7L504.9,697.4L505.8,693.1L505.6,686.9L505.5,680.7L503.1,675.2L500.7,669.7L498.3,664.2L496.0,658.7L492.6,653.6L489.2,648.6L486.9,643.4L484.7,638.2L482.4,633.0L481.3,628.9L478.3,630.5L475.3,632.0L475.1,634.6L473.0,632.0L467.9,632.4L462.8,632.7L457.7,633.1L452.6,633.4L447.5,633.6L442.4,633.9L440.4,630.1L435.5,630.6L430.6,631.1L425.6,631.6L420.7,632.1L415.7,632.6L410.7,633.0L413.4,638.1Z"/>
<path d="M547.3,417.4L547.8,420.9L548.3,424.5L546.0,432.4L545.1,439.9L545.9,446.9L546.7,450.5L550.3,449.5L553.9,448.5L557.4,447.5L559.6,444.4L561.2,443.8L561.6,440.7L557.9,437.3L556.0,431.4L554.1,425.5L552.1,418.9L550.0,412.3Z"/>
<path d="M74.4,637.2L82.2,631.7L92.2,627.2L102.2,624.3L112.2,627.2L123.3,630.1L137.8,632.3L142.2,648.3L146.7,666.1L151.1,683.9L153.3,696.8L160.0,698.8L172.2,700.3L181.1,703.2L188.9,707.7L197.8,713.2L204.4,718.8L206.7,723.2L198.9,725.4L194.4,723.2L190.0,715.4L183.3,708.8L174.4,704.3L163.3,701.7L150.0,699.4L138.9,697.7L130.0,695.4L126.7,691.7L124.4,698.3L120.0,706.1L115.6,708.3L114.4,702.8L118.9,695.0L121.1,690.6L115.6,696.1L110.0,703.9L104.4,709.4L96.7,712.8L93.3,719.4L85.6,725.0L77.8,729.4L68.9,732.8L67.8,731.0L75.6,727.9L83.3,722.8L88.9,717.2L91.1,711.7L86.7,709.4L80.0,708.3L75.6,703.9L71.1,698.3L67.8,693.9L65.6,687.2L68.9,681.7L74.4,678.3L82.2,675.0L85.6,670.6L83.3,666.6L77.8,665.0L72.2,662.8L66.7,658.3L65.6,656.1L73.3,653.9L80.0,653.2L84.4,656.1L82.2,650.6L77.8,643.9ZM48.9,666.1L53.3,665.7L55.6,668.3L53.3,670.6L49.6,669.4ZM57.8,693.9L62.2,693.9L62.9,696.8L58.9,697.2ZM104.4,721.7L110.4,719.9L112.2,722.8L107.8,725.7L104.4,725.0Z"/>
<path d="M186.0,674.4L188.2,674.0L188.9,678.2L186.7,679.3ZM191.8,671.6L195.1,670.7L196.7,673.8L194.4,676.2L191.8,675.1ZM209.6,678.2L213.3,677.3L216.0,680.0L214.9,683.3L210.4,683.3ZM218.4,680.4L225.1,680.4L225.6,682.7L218.9,682.9ZM224.0,685.6L226.7,685.1L227.1,687.8L224.4,688.2ZM228.9,684.9L234.0,684.0L238.0,686.2L238.4,690.0L234.4,692.9L231.1,690.7L229.6,687.8ZM240.0,695.6L244.4,693.3L248.9,698.9L250.4,702.7L245.6,705.6L242.2,708.9L239.6,704.4Z"/>
<path d="M131.1,470.6L136.0,471.6L141.0,472.5L146.0,473.3L151.0,474.1L156.0,474.8L161.0,475.5L160.0,482.1L158.9,488.6L164.0,489.3L169.1,490.0L174.2,490.6L179.2,491.3L178.3,497.8L177.4,504.4L176.5,511.0L175.6,517.7L174.7,524.4L173.8,531.1L172.8,537.9L171.9,544.6L166.6,543.9L161.3,543.1L156.0,542.3L150.7,541.5L145.4,540.7L140.1,539.8L134.9,538.9L129.6,537.9L124.3,536.9L118.9,535.9L120.3,529.2L121.6,522.6L122.8,516.0L123.9,509.5L125.1,502.9L126.2,496.5L127.4,490.0L128.5,483.6L129.8,477.1Z"/>
<path d="M179.2,491.3L184.3,491.8L189.4,492.4L194.4,493.0L199.5,493.5L204.5,494.0L209.6,494.5L214.6,494.9L219.6,495.4L224.5,495.9L229.5,496.4L234.4,497.2L239.3,498.0L244.3,498.8L249.3,499.5L248.9,506.8L248.6,514.1L248.2,521.1L247.8,527.8L247.4,534.5L247.0,541.1L246.6,547.7L246.2,554.3L241.1,553.8L236.0,553.2L231.1,552.6L226.1,552.0L221.2,551.3L216.2,550.7L211.3,550.0L206.4,549.3L201.4,548.6L196.5,548.0L191.6,547.3L186.6,546.6L181.7,546.0L176.8,545.3L171.9,544.6L172.8,537.9L173.8,531.1L174.7,524.4L175.6,517.7L176.5,511.0L177.4,504.4L178.3,497.8Z"/>
<path d="M366.0,482.3L370.8,482.1L375.6,481.8L380.5,481.5L385.3,481.1L390.2,480.7L395.1,480.3L396.5,484.2L397.9,488.0L399.0,490.4L399.7,496.7L400.3,503.0L401.0,509.2L401.6,515.5L402.3,521.8L402.8,525.8L403.4,529.8L399.2,536.2L398.8,543.0L395.0,548.7L393.8,552.8L390.8,553.7L387.9,554.5L383.7,550.7L381.1,546.8L378.6,543.0L373.4,539.2L374.7,534.5L374.4,531.1L368.8,528.7L365.0,524.2L361.3,519.7L359.5,517.2L360.0,510.8L363.1,506.4L363.9,503.7L362.6,499.8L367.5,495.6L371.3,491.4L371.0,487.4Z"/>
<path d="M399.0,490.4L402.6,489.8L406.2,489.1L410.4,488.8L414.5,488.5L418.7,488.2L422.9,487.8L427.1,487.5L427.8,493.2L428.5,498.9L429.3,504.6L430.0,510.3L430.7,516.1L431.4,521.8L428.6,524.9L425.7,528.0L422.7,534.2L420.5,538.1L415.2,539.4L412.1,540.7L409.0,542.1L404.0,540.5L398.8,543.0L399.2,536.2L403.4,529.8L402.8,525.8L402.3,521.8L401.6,515.5L401.0,509.2L400.3,503.0L399.7,496.7Z"/>
<path d="M440.9,485.2L442.1,481.3L443.4,477.3L446.0,472.2L448.6,467.2L447.0,461.3L445.3,455.5L441.0,454.1L436.9,457.3L432.8,460.6L435.2,455.8L437.6,451.1L436.9,446.5L436.2,441.8L431.8,439.0L427.4,436.1L424.0,434.6L420.6,433.1L418.8,438.5L414.5,444.4L413.8,447.2L410.9,448.2L408.0,449.2L407.1,454.0L406.1,458.9L407.7,464.1L409.3,469.4L411.1,475.9L410.0,480.1L409.0,484.2L406.2,489.1L410.4,488.8L414.5,488.5L418.7,488.2L422.9,487.8L427.1,487.5L431.7,486.7L436.3,486.0ZM364.6,426.8L368.9,424.7L373.2,422.6L377.9,420.0L382.5,417.3L385.2,415.4L387.9,413.6L386.3,417.4L384.7,421.3L389.2,423.3L393.7,425.3L398.2,424.4L402.6,423.5L407.1,422.5L411.8,421.3L416.5,420.1L419.8,421.6L423.2,423.0L427.5,429.3L424.1,430.1L420.8,430.8L417.8,430.5L413.0,431.3L408.1,432.2L403.4,434.3L398.7,436.5L396.2,440.8L393.6,445.1L391.3,441.2L387.8,436.0L382.8,434.3L377.8,432.6L373.4,430.7L369.0,428.7Z"/>
<path d="M468.4,550.4L473.6,549.6L478.7,548.8L483.8,547.9L488.9,547.1L494.0,546.2L499.1,545.3L504.1,544.4L509.2,543.5L514.3,542.5L519.4,541.6L524.4,540.6L529.5,539.5L531.7,545.1L534.0,550.7L536.3,556.3L532.0,561.6L527.6,566.9L522.1,567.4L518.0,573.7L513.8,580.1L510.5,580.7L507.3,581.2L502.5,577.8L497.8,574.3L493.1,570.8L488.7,571.6L484.4,572.4L480.0,573.1L477.9,570.0L477.7,568.7L472.9,569.3L468.0,569.8L463.2,570.4L459.6,572.3L456.0,574.2L451.6,574.9L447.2,575.5L442.8,576.1L445.7,570.3L448.7,567.8L451.8,566.0L454.8,564.2L459.7,560.0L462.8,558.8L465.9,557.6Z"/>
<path d="M522.0,467.8L517.2,468.8L512.3,469.8L507.4,470.8L502.5,471.7L497.6,472.6L492.7,473.5L487.7,474.4L482.8,475.2L477.9,476.1L477.3,472.6L474.1,474.7L470.2,477.6L471.1,483.3L472.0,489.0L472.9,494.8L473.8,500.7L474.7,506.6L478.2,506.0L481.8,505.5L485.3,504.9L490.0,504.1L494.6,503.3L499.3,502.5L503.9,501.7L508.5,500.8L513.2,499.9L517.7,498.9L522.4,497.9L524.0,496.1L526.1,496.1L528.6,494.2L531.8,489.5L526.3,484.1L526.6,480.1L529.8,474.6L525.8,472.2Z"/>
<path d="M546.7,450.5L550.3,449.5L553.9,448.5L557.4,447.5L559.6,444.4L561.2,443.8L564.0,446.1L561.4,451.2L566.0,455.4L569.9,457.0L572.5,455.4L571.4,452.9L569.8,452.7L572.5,453.3L573.5,457.2L570.4,459.0L567.3,460.7L566.4,458.9L563.1,462.8L559.4,458.3L559.0,456.7L555.1,458.0L551.2,459.1L547.3,460.2L543.4,461.3L539.4,462.3L539.4,457.4L539.3,452.5L543.0,451.5Z"/>
</g>
<g fill="#0e6eb8" stroke="#eef3fb" stroke-width="0.9" stroke-linejoin="round">
<path d="M55.4,385.0L58.3,386.1L61.1,387.2L64.2,389.9L63.5,395.7L67.5,397.0L71.6,398.3L75.6,399.5L80.1,400.7L84.6,401.8L88.4,402.1L92.2,402.3L96.0,402.6L99.2,402.1L102.8,402.9L106.5,403.6L110.2,404.4L113.9,405.1L117.6,405.8L120.2,413.0L117.6,416.3L115.1,419.6L112.2,423.2L109.2,426.7L108.3,433.7L107.5,439.2L105.9,445.2L104.4,451.2L102.8,457.1L101.3,463.0L96.4,461.8L91.4,460.6L86.5,459.3L81.5,458.1L76.7,456.8L71.8,455.5L67.3,454.1L62.8,452.7L58.3,451.2L53.9,449.7L49.5,448.1L45.1,446.6L40.8,445.0L36.4,443.3L32.1,441.7L32.6,435.5L33.1,429.3L35.7,426.0L38.2,422.8L41.4,417.1L44.6,411.5L46.9,407.0L49.1,402.4L51.7,396.5L54.2,390.6Z"/>
<path d="M32.1,441.7L36.4,443.3L40.8,445.0L45.1,446.6L49.5,448.1L53.9,449.7L58.3,451.2L62.8,452.7L67.3,454.1L71.8,455.5L69.8,462.0L67.8,468.4L65.9,474.8L64.0,481.2L62.2,487.7L60.4,494.2L64.2,500.4L68.2,506.6L72.3,512.8L76.4,519.0L80.6,525.2L84.7,531.4L88.9,537.5L93.1,543.7L97.2,549.8L101.2,555.9L105.3,562.2L106.0,566.6L106.7,571.2L108.6,573.9L104.5,578.0L102.0,585.7L99.8,591.6L97.6,597.4L92.2,596.8L86.8,596.0L81.4,595.1L76.1,594.1L70.7,593.1L69.7,590.2L67.3,584.2L64.8,578.1L62.4,572.1L59.5,569.4L56.6,566.7L52.3,562.5L48.1,558.3L43.9,556.8L39.8,555.2L39.3,548.1L38.9,541.1L36.2,535.7L33.6,530.3L31.0,525.0L32.1,520.9L30.6,513.8L29.2,506.8L33.7,506.7L32.8,502.0L30.4,502.7L26.1,498.5L24.5,491.0L23.0,483.5L22.9,476.2L22.9,468.9L22.9,461.5L25.6,458.4L28.3,455.2L30.2,448.5Z"/>
<path d="M126.4,369.4L130.4,370.3L134.5,371.2L132.8,377.9L131.1,384.7L131.7,388.8L132.3,392.9L135.0,397.1L137.2,401.6L139.5,406.0L141.0,410.0L139.4,413.9L137.8,417.9L136.6,421.1L139.6,420.8L142.5,420.5L144.0,425.3L145.4,430.1L146.4,433.9L149.4,439.6L152.2,439.4L155.0,439.1L158.9,439.5L162.8,439.9L166.8,442.4L165.6,449.1L164.4,455.8L163.3,462.4L162.1,469.0L161.0,475.5L156.0,474.8L151.0,474.1L146.0,473.3L141.0,472.5L136.0,471.6L131.1,470.6L126.1,469.4L121.2,468.2L116.2,466.9L111.3,465.6L106.3,464.3L101.3,463.0L102.8,457.1L104.4,451.2L105.9,445.2L107.5,439.2L108.3,433.7L109.2,426.7L112.2,423.2L115.1,419.6L117.6,416.3L120.2,413.0L117.6,405.8L117.6,401.4L119.4,395.0L121.1,388.5L122.9,382.1L124.6,375.7Z"/>
<path d="M134.5,371.2L138.7,372.2L143.0,373.3L147.3,374.3L151.6,375.3L155.9,376.4L160.3,377.4L164.7,378.4L169.1,379.4L173.5,380.3L177.9,381.2L182.4,382.2L186.8,383.0L191.3,383.9L195.8,384.7L200.2,385.5L204.7,386.3L209.2,387.0L213.6,387.8L218.1,388.5L222.6,389.1L227.0,389.7L231.5,390.3L235.9,390.9L240.4,391.4L239.9,397.1L239.4,402.8L239.0,408.5L238.5,414.2L238.0,419.9L237.4,425.6L236.7,431.5L235.7,437.8L234.7,444.3L230.0,443.8L225.4,443.3L220.7,442.8L216.0,442.3L211.2,441.7L206.4,441.1L201.7,440.4L196.9,439.8L192.1,439.1L187.3,438.3L182.5,437.6L177.7,436.8L172.9,436.0L168.1,435.2L167.4,438.8L166.8,442.4L162.8,439.9L158.9,439.5L155.0,439.1L152.2,439.4L149.4,439.6L146.4,433.9L145.4,430.1L144.0,425.3L142.5,420.5L139.6,420.8L136.6,421.1L137.8,417.9L139.4,413.9L141.0,410.0L139.5,406.0L137.2,401.6L135.0,397.1L132.3,392.9L131.7,388.8L131.1,384.7L132.8,377.9Z"/>
<path d="M118.9,535.9L124.3,536.9L129.6,537.9L134.9,538.9L140.1,539.8L145.4,540.7L150.7,541.5L156.0,542.3L161.3,543.1L166.6,543.9L171.9,544.6L170.9,551.0L169.9,557.4L168.9,563.9L167.9,570.3L166.9,576.8L166.0,583.2L165.0,589.7L164.0,596.1L163.0,602.5L162.1,608.8L161.1,615.2L160.2,621.6L155.4,621.3L150.7,621.0L145.9,620.8L141.1,620.5L136.4,620.3L131.2,618.1L126.1,615.8L120.9,613.5L115.9,611.1L110.8,608.7L105.8,606.1L100.9,603.4L96.0,600.5L97.6,597.4L99.8,591.6L102.0,585.7L104.5,578.0L108.6,573.9L106.7,571.2L106.0,566.6L105.3,562.2L107.5,555.1L107.7,550.9L107.9,546.7L112.0,546.7L116.1,546.8L117.5,541.3Z"/>
<path d="M171.9,544.6L176.8,545.3L181.7,546.0L186.6,546.6L191.6,547.3L196.5,548.0L201.4,548.6L206.4,549.3L211.3,550.0L216.2,550.7L221.2,551.3L226.1,552.0L231.1,552.6L236.0,553.2L235.5,559.9L235.0,566.6L234.4,573.2L233.9,579.9L233.4,586.6L232.8,593.3L232.3,600.1L231.8,606.8L231.2,613.6L230.7,620.3L225.6,619.9L220.5,619.4L215.4,618.9L210.3,618.3L205.2,617.7L200.1,617.1L195.0,616.5L189.9,615.8L190.6,619.0L185.7,618.3L180.8,617.7L175.9,617.1L170.9,616.5L170.1,622.6L165.2,622.1L160.2,621.6L161.1,615.2L162.1,608.8L163.0,602.5L164.0,596.1L165.0,589.7L166.0,583.2L166.9,576.8L167.9,570.3L168.9,563.9L169.9,557.4L170.9,551.0Z"/>
<path d="M240.4,391.4L244.7,391.8L249.1,392.2L253.4,392.6L257.8,392.9L262.1,393.2L266.5,393.5L270.8,393.7L275.1,394.0L279.5,394.2L283.8,394.4L288.2,394.5L292.5,394.7L296.9,394.8L301.3,394.9L301.6,400.0L302.0,405.2L302.9,409.0L303.9,412.9L303.9,417.4L304.0,421.9L304.8,425.9L305.6,429.8L305.9,434.7L301.2,434.6L296.6,434.6L291.9,434.6L287.3,434.5L282.7,434.4L278.1,434.3L273.5,434.1L268.8,433.9L264.2,433.7L259.7,433.4L255.1,433.1L250.5,432.7L245.9,432.3L241.3,431.9L236.7,431.5L237.4,425.6L238.0,419.9L238.5,414.2L239.0,408.5L239.4,402.8L239.9,397.1Z"/>
<path d="M232.4,471.8L236.9,472.2L241.3,472.5L245.7,472.8L250.2,473.1L254.7,473.4L259.3,473.7L263.9,474.1L268.5,474.4L273.1,474.7L277.8,475.1L282.4,475.4L287.1,475.7L290.1,477.2L293.2,478.8L296.7,478.6L300.3,478.4L305.4,481.4L308.0,483.6L309.9,487.7L311.8,491.8L312.8,495.9L313.7,499.9L314.6,506.5L315.3,509.4L317.3,513.5L319.6,516.6L314.7,516.8L309.7,516.9L304.7,517.0L299.6,517.0L294.5,516.9L289.3,516.8L284.2,516.7L279.0,516.5L273.9,516.2L268.8,515.9L263.7,515.6L258.6,515.2L253.6,514.7L248.6,514.1L248.9,506.8L249.3,499.5L244.3,498.8L239.3,498.0L234.4,497.2L229.5,496.4L230.2,490.1L231.0,484.0L231.7,478.0Z"/>
<path d="M248.6,514.1L253.6,514.7L258.6,515.2L263.7,515.6L268.8,515.9L273.9,516.2L279.0,516.5L284.2,516.7L289.3,516.8L294.5,516.9L299.6,517.0L304.7,517.0L309.7,516.9L314.7,516.8L319.6,516.6L323.7,519.8L325.2,524.1L326.8,528.4L326.8,534.0L326.9,539.6L327.0,545.2L327.1,550.8L327.2,556.5L321.7,556.5L316.2,556.6L310.8,556.6L305.3,556.6L299.9,556.6L294.5,556.6L289.1,556.6L283.7,556.5L278.3,556.3L272.9,556.1L267.5,555.9L262.2,555.6L256.8,555.3L251.5,554.8L246.2,554.3L246.6,547.7L247.0,541.1L247.4,534.5L247.8,527.8L248.2,521.1Z"/>
<path d="M236.0,553.2L241.1,553.8L246.2,554.3L251.5,554.8L256.8,555.3L262.2,555.6L267.5,555.9L272.9,556.1L278.3,556.3L283.7,556.5L289.1,556.6L294.5,556.6L299.9,556.6L305.3,556.6L310.8,556.6L316.2,556.6L321.7,556.5L327.2,556.5L327.3,563.1L328.1,568.0L328.9,572.9L329.8,577.8L329.8,583.7L329.7,589.6L329.7,595.4L329.7,601.3L325.7,600.2L321.8,599.0L317.9,597.9L312.1,598.6L306.4,599.2L302.3,599.2L298.3,599.1L294.3,598.4L290.3,597.6L286.9,596.2L283.6,594.8L279.6,593.3L275.7,591.9L271.3,590.0L266.8,588.0L267.1,581.6L267.4,575.2L267.7,568.9L268.0,562.5L262.5,562.2L257.1,561.9L251.7,561.5L246.3,561.0L240.9,560.5L235.5,559.9Z"/>
<path d="M301.3,394.9L305.0,395.0L308.7,395.0L312.4,395.0L316.2,395.0L319.9,395.0L320.0,390.1L322.0,393.8L324.0,397.6L327.8,398.2L331.7,398.9L335.6,399.5L339.5,400.1L344.1,402.0L348.8,403.9L352.5,404.3L356.2,404.6L360.0,405.0L364.1,405.7L368.2,406.4L372.3,407.1L367.7,409.6L363.1,412.0L358.5,414.4L355.4,418.1L352.3,421.7L349.2,425.4L346.6,425.9L346.7,429.7L346.9,433.5L344.2,437.0L341.4,440.4L342.2,444.6L343.0,448.7L343.2,452.2L347.5,455.3L351.8,458.3L355.0,461.0L358.1,463.7L359.2,469.1L354.5,469.3L349.8,469.4L345.1,469.5L340.4,469.6L335.7,469.6L331.1,469.7L326.4,469.7L321.7,469.7L317.0,469.7L312.3,469.6L307.6,469.6L307.4,463.1L307.2,456.6L307.1,450.2L307.0,443.7L303.2,439.4L305.9,434.7L305.6,429.8L304.8,425.9L304.0,421.9L303.9,417.4L303.9,412.9L302.9,409.0L302.0,405.2L301.6,400.0Z"/>
<path d="M307.6,469.6L312.3,469.6L317.0,469.7L321.7,469.7L326.4,469.7L331.1,469.7L335.7,469.6L340.4,469.6L345.1,469.5L349.8,469.4L354.5,469.3L359.2,469.1L360.9,475.8L366.0,482.3L371.0,487.4L371.3,491.4L367.5,495.6L362.6,499.8L363.9,503.7L363.1,506.4L360.0,510.8L356.6,507.9L351.9,508.1L347.3,508.3L342.7,508.4L338.0,508.6L333.4,508.7L328.9,508.9L324.3,509.0L319.8,509.2L315.3,509.4L314.6,506.5L313.7,499.9L312.8,495.9L311.8,491.8L309.9,487.7L308.0,483.6L307.4,480.7L307.8,476.6L306.2,472.3Z"/>
<path d="M315.3,509.4L319.8,509.2L324.3,509.0L328.9,508.9L333.4,508.7L338.0,508.6L342.7,508.4L347.3,508.3L351.9,508.1L356.6,507.9L360.0,510.8L359.5,517.2L361.3,519.7L365.0,524.2L368.8,528.7L374.4,531.1L374.7,534.5L373.4,539.2L378.6,543.0L381.1,546.8L383.7,550.7L387.9,554.5L386.6,559.3L384.6,561.4L383.7,564.9L382.9,568.3L379.1,568.4L375.4,568.6L377.3,561.8L371.8,562.1L366.2,562.3L360.7,562.5L355.1,562.6L349.5,562.8L344.0,562.9L338.4,563.0L332.8,563.1L327.3,563.1L327.2,556.5L327.1,550.8L327.0,545.2L326.9,539.6L326.8,534.0L326.8,528.4L325.2,524.1L323.7,519.8L319.6,516.6L317.3,513.5Z"/>
<path d="M327.3,563.1L332.8,563.1L338.4,563.0L344.0,562.9L349.5,562.8L355.1,562.6L360.7,562.5L366.2,562.3L371.8,562.1L377.3,561.8L375.4,568.6L379.1,568.4L382.9,568.3L381.0,573.7L379.2,580.5L377.0,581.9L374.0,588.7L371.9,592.8L369.8,596.9L369.2,602.9L368.5,608.9L362.9,609.1L357.3,609.3L351.7,609.5L346.1,609.6L340.5,609.7L334.9,609.8L334.9,606.1L334.8,602.5L329.7,601.3L329.7,595.4L329.7,589.6L329.8,583.7L329.8,577.8L328.9,572.9L328.1,568.0Z"/>
<path d="M334.9,609.8L340.5,609.7L346.1,609.6L351.7,609.5L357.3,609.3L362.9,609.1L368.5,608.9L369.4,615.6L371.8,618.1L369.0,623.2L366.3,628.4L365.2,632.1L364.2,635.8L369.7,635.6L375.2,635.3L380.6,635.0L386.1,634.8L385.5,640.1L389.0,645.5L391.7,647.8L388.4,652.0L392.1,655.5L395.8,659.0L391.2,661.3L387.0,660.2L382.7,659.0L376.8,660.7L372.6,659.5L368.4,658.3L362.3,654.5L356.4,655.7L351.0,654.3L345.6,653.0L341.7,653.4L337.8,653.8L338.7,649.8L339.5,645.7L340.3,641.1L341.1,636.4L339.6,632.4L338.1,628.4L335.2,623.3L335.1,618.8L335.0,614.3Z"/>
<path d="M377.0,581.9L374.0,588.7L371.9,592.8L369.8,596.9L369.2,602.9L368.5,608.9L369.4,615.6L371.8,618.1L369.0,623.2L366.3,628.4L365.2,632.1L364.2,635.8L369.7,635.6L375.2,635.3L380.6,635.0L386.1,634.8L385.5,640.1L389.0,645.5L393.4,644.4L397.7,643.3L402.0,642.1L401.5,637.1L401.0,632.0L400.6,626.9L400.1,621.8L400.4,615.2L400.8,608.5L401.1,601.9L401.4,595.2L401.7,588.5L401.9,581.8L400.7,580.6L396.0,580.9L391.3,581.2L386.6,581.5L381.8,581.7Z"/>
<path d="M400.7,580.6L401.9,581.8L401.7,588.5L401.4,595.2L401.1,601.9L400.8,608.5L400.4,615.2L400.1,621.8L400.6,626.9L401.0,632.0L401.5,637.1L402.0,642.1L406.7,643.4L407.6,638.6L410.2,643.1L412.3,642.5L413.4,638.1L410.7,633.0L415.7,632.6L420.7,632.1L425.6,631.6L430.6,631.1L435.5,630.6L440.4,630.1L439.3,623.5L439.1,618.1L438.9,612.8L437.6,609.2L436.2,605.5L434.8,600.0L433.4,594.5L431.9,589.0L430.5,583.5L429.0,577.9L424.3,578.5L419.6,579.0L414.9,579.4L410.2,579.8L405.5,580.2Z"/>
<path d="M387.9,554.5L390.8,553.7L393.8,552.8L395.0,548.7L398.8,543.0L404.0,540.5L409.0,542.1L412.1,540.7L415.2,539.4L420.5,538.1L422.7,534.2L425.7,528.0L428.6,524.9L431.4,521.8L434.6,521.4L438.2,525.0L443.7,526.2L447.3,525.1L450.9,524.0L455.6,527.5L456.0,530.4L460.0,536.6L463.7,538.2L460.3,541.8L456.8,545.3L452.0,549.5L447.3,553.7L442.6,554.3L437.9,554.8L433.2,555.4L427.8,555.9L422.5,556.4L417.1,556.9L412.9,557.2L408.7,557.5L404.5,557.7L400.3,558.0L400.6,560.4L395.3,560.8L389.9,561.1L384.6,561.4L386.6,559.3Z"/>
<path d="M427.1,487.5L431.7,486.7L436.3,486.0L440.9,485.2L445.0,486.5L449.1,487.8L454.1,486.7L459.2,485.6L462.9,482.9L466.6,480.2L470.2,477.6L471.1,483.3L472.0,489.0L472.9,494.8L471.7,495.5L472.1,502.0L471.3,507.5L468.5,509.9L465.7,512.4L463.0,515.6L463.5,518.9L459.4,524.4L455.6,527.5L450.9,524.0L447.3,525.1L443.7,526.2L438.2,525.0L434.6,521.4L431.4,521.8L430.7,516.1L430.0,510.3L429.3,504.6L428.5,498.9L427.8,493.2Z"/>
<path d="M349.2,425.4L352.7,424.4L356.3,423.4L359.8,422.5L364.6,426.8L369.0,428.7L373.4,430.7L377.8,432.6L382.8,434.3L387.8,436.0L391.3,441.2L393.6,445.1L392.0,449.0L390.3,452.9L395.0,449.1L399.3,442.6L398.2,447.4L397.0,452.3L395.8,457.2L394.3,462.7L393.8,468.2L393.3,473.6L394.2,477.0L395.1,480.3L390.2,480.7L385.3,481.1L380.5,481.5L375.6,481.8L370.8,482.1L366.0,482.3L360.9,475.8L359.2,469.1L358.1,463.7L355.0,461.0L351.8,458.3L347.5,455.3L343.2,452.2L343.0,448.7L342.2,444.6L341.4,440.4L344.2,437.0L346.9,433.5L346.7,429.7L346.6,425.9Z"/>
<path d="M429.0,577.9L433.6,577.4L438.2,576.8L442.8,576.1L447.2,575.5L451.6,574.9L456.0,574.2L453.8,578.6L459.0,581.2L462.2,584.8L465.4,588.4L471.0,593.0L476.7,598.3L479.6,603.3L482.6,608.3L485.7,610.2L484.3,614.7L482.9,619.2L482.1,624.1L481.3,628.9L478.3,630.5L475.3,632.0L475.1,634.6L473.0,632.0L467.9,632.4L462.8,632.7L457.7,633.1L452.6,633.4L447.5,633.6L442.4,633.9L440.4,630.1L439.3,623.5L439.1,618.1L438.9,612.8L437.6,609.2L436.2,605.5L434.8,600.0L433.4,594.5L431.9,589.0L430.5,583.5Z"/>
<path d="M456.0,574.2L459.6,572.3L463.2,570.4L468.0,569.8L472.9,569.3L477.7,568.7L477.9,570.0L480.0,573.1L484.4,572.4L488.7,571.6L493.1,570.8L497.8,574.3L502.5,577.8L507.3,581.2L504.4,586.3L501.6,591.4L498.2,595.1L494.8,598.8L492.1,601.6L489.4,604.5L485.7,610.2L482.6,608.3L479.6,603.3L476.7,598.3L471.0,593.0L465.4,588.4L462.2,584.8L459.0,581.2L453.8,578.6Z"/>
<path d="M463.7,538.2L467.3,542.2L470.8,541.0L474.3,539.7L477.7,537.7L481.2,535.7L482.7,530.5L484.3,525.3L485.8,520.2L489.7,521.7L493.4,516.4L495.8,514.4L498.2,512.3L500.7,511.0L503.2,509.7L503.9,507.0L508.9,511.0L511.7,511.8L510.1,518.2L514.5,519.4L517.9,520.4L521.2,521.4L522.2,526.6L522.9,530.6L523.7,534.6L527.0,534.8L529.5,539.5L524.4,540.6L519.4,541.6L514.3,542.5L509.2,543.5L504.1,544.4L499.1,545.3L494.0,546.2L488.9,547.1L483.8,547.9L478.7,548.8L473.6,549.6L468.4,550.4L463.2,551.3L457.9,552.1L452.6,552.9L447.3,553.7L452.0,549.5L456.8,545.3L460.3,541.8ZM527.0,532.2L527.7,526.4L528.3,520.6L532.0,518.7L530.8,522.5L529.7,526.4Z"/>
<path d="M472.9,494.8L473.8,500.7L474.7,506.6L478.2,506.0L481.8,505.5L485.3,504.9L485.8,508.3L486.3,511.7L490.7,507.6L495.5,504.8L498.3,503.2L502.5,503.5L503.9,507.0L503.2,509.7L500.7,511.0L498.2,512.3L495.8,514.4L493.4,516.4L489.7,521.7L485.8,520.2L484.3,525.3L482.7,530.5L481.2,535.7L477.7,537.7L474.3,539.7L470.8,541.0L467.3,542.2L463.7,538.2L460.0,536.6L456.0,530.4L455.6,527.5L459.4,524.4L463.5,518.9L463.0,515.6L465.7,512.4L468.5,509.9L471.3,507.5L472.1,502.0L471.7,495.5Z"/>
<path d="M485.3,504.9L490.0,504.1L494.6,503.3L499.3,502.5L503.9,501.7L508.5,500.8L513.2,499.9L517.7,498.9L522.4,497.9L523.6,503.3L524.9,508.7L526.2,514.1L529.5,513.4L532.9,512.8L532.0,518.7L528.3,520.6L523.8,518.1L520.1,512.1L519.6,506.8L519.8,502.1L517.4,505.9L517.8,509.9L518.3,513.8L519.7,517.6L521.2,521.4L517.9,520.4L514.5,519.4L510.1,518.2L511.7,511.8L508.9,511.0L503.9,507.0L502.5,503.5L498.3,503.2L495.5,504.8L490.7,507.6L486.3,511.7L485.8,508.3Z"/>
<path d="M522.4,497.9L524.0,496.1L526.1,496.1L525.3,500.3L527.5,503.8L531.5,508.3L532.9,512.8L529.5,513.4L526.2,514.1L524.9,508.7L523.6,503.3Z"/>
<path d="M529.8,474.6L534.0,475.9L538.3,477.1L537.8,481.3L538.6,484.4L538.9,488.7L539.2,493.0L537.2,499.6L535.0,502.9L532.7,506.3L528.2,502.3L526.1,496.1L528.6,494.2L531.8,489.5L526.3,484.1L526.6,480.1Z"/>
<path d="M530.7,422.4L526.6,423.7L522.5,424.9L518.5,426.0L516.0,427.8L513.5,429.5L509.9,435.0L506.2,440.5L507.7,444.8L509.2,449.0L505.8,451.8L502.3,454.4L497.3,454.8L492.2,455.0L488.8,456.1L485.5,457.2L482.1,458.3L484.6,463.5L481.0,468.0L477.3,472.6L477.9,476.1L482.8,475.2L487.7,474.4L492.7,473.5L497.6,472.6L502.5,471.7L507.4,470.8L512.3,469.8L517.2,468.8L522.0,467.8L525.8,472.2L529.8,474.6L534.0,475.9L538.3,477.1L537.8,481.3L538.3,482.5L543.1,480.9L547.8,479.2L551.1,476.4L554.4,473.5L557.6,470.5L554.2,472.4L550.8,474.2L547.5,475.2L544.2,476.2L540.8,477.1L540.7,476.5L541.3,472.2L540.4,467.3L539.4,462.3L539.4,457.4L539.3,452.5L538.0,447.1L536.7,441.8L535.2,441.5L533.7,435.1L532.2,428.8Z"/>
<path d="M530.7,422.4L534.8,421.2L539.0,420.0L543.1,418.7L547.3,417.4L547.8,420.9L548.3,424.5L546.0,432.4L545.1,439.9L545.9,446.9L546.7,450.5L543.0,451.5L539.3,452.5L538.0,447.1L536.7,441.8L535.2,441.5L533.7,435.1L532.2,428.8Z"/>
<path d="M550.0,412.3L552.1,418.9L554.1,425.5L556.0,431.4L557.9,437.3L561.6,440.7L559.7,434.6L557.8,428.5L555.9,422.4L554.0,416.3L552.1,410.2L554.7,402.2L554.5,396.5L554.3,390.8L556.3,384.7L558.2,378.6L562.0,381.1L564.3,379.1L566.5,377.2L569.4,378.3L572.2,379.4L573.9,385.3L575.7,391.2L577.4,397.2L580.9,397.4L583.2,403.1L588.2,406.0L586.1,409.1L584.0,412.2L581.7,414.5L579.5,416.8L576.6,417.1L573.7,417.4L573.5,423.3L570.3,425.8L567.1,428.4L564.0,431.6L562.6,437.1L561.6,440.7L559.3,435.0L557.0,429.3L554.6,423.7L552.3,418.0Z"/>
<path d="M539.4,462.3L543.4,461.3L547.3,460.2L551.2,459.1L555.1,458.0L556.0,462.6L556.8,467.3L553.4,468.9L549.9,470.5L546.3,472.1L543.5,474.3L540.7,476.5L541.3,472.2L540.4,467.3Z"/>
<path d="M555.1,458.0L559.0,456.7L559.4,458.3L563.1,462.8L560.0,465.6L556.8,467.3L556.0,462.6Z"/>
</g>
<g fill="#bfc0c3" stroke="#eef3fb" stroke-width="0.9" stroke-linejoin="round">
<path d="M80.2,354.4L79.6,360.1L79.0,364.2L78.3,368.4L76.4,372.1L74.5,375.8L70.7,376.6L73.4,370.9L76.1,365.3L76.1,360.2L73.2,359.0L70.4,357.9L66.8,357.1L63.3,356.2L59.7,355.4L58.1,361.9L57.8,368.5L57.6,375.2L56.5,380.1L55.4,385.0L58.3,386.1L61.1,387.2L64.2,389.9L63.5,395.7L67.5,397.0L71.6,398.3L75.6,399.5L80.1,400.7L84.6,401.8L88.4,402.1L92.2,402.3L96.0,402.6L99.2,402.1L102.8,402.9L106.5,403.6L110.2,404.4L113.9,405.1L117.6,405.8L117.6,401.4L119.4,395.0L121.1,388.5L122.9,382.1L124.6,375.7L126.4,369.4L122.5,368.4L118.6,367.3L114.8,366.2L111.0,365.1L107.2,363.9L103.4,362.7L99.6,361.4L95.8,360.1L91.9,358.8L88.1,357.4L84.2,355.9Z"/>
<path d="M71.8,455.5L76.7,456.8L81.5,458.1L86.5,459.3L91.4,460.6L96.4,461.8L101.3,463.0L106.3,464.3L111.3,465.6L116.2,466.9L121.2,468.2L126.1,469.4L131.1,470.6L129.8,477.1L128.5,483.6L127.4,490.0L126.2,496.5L125.1,502.9L123.9,509.5L122.8,516.0L121.6,522.6L120.3,529.2L118.9,535.9L117.5,541.3L116.1,546.8L112.0,546.7L107.9,546.7L107.7,550.9L107.5,555.1L105.3,562.2L101.2,555.9L97.2,549.8L93.1,543.7L88.9,537.5L84.7,531.4L80.6,525.2L76.4,519.0L72.3,512.8L68.2,506.6L64.2,500.4L60.4,494.2L62.2,487.7L64.0,481.2L65.9,474.8L67.8,468.4L69.8,462.0Z"/>
<path d="M168.1,435.2L172.9,436.0L177.7,436.8L182.5,437.6L187.3,438.3L192.1,439.1L196.9,439.8L201.7,440.4L206.4,441.1L211.2,441.7L216.0,442.3L220.7,442.8L225.4,443.3L230.0,443.8L234.7,444.3L234.0,451.3L233.4,458.3L233.0,465.2L232.4,471.8L231.7,478.0L231.0,484.0L230.2,490.1L229.5,496.4L224.5,495.9L219.6,495.4L214.6,494.9L209.6,494.5L204.5,494.0L199.5,493.5L194.4,493.0L189.4,492.4L184.3,491.8L179.2,491.3L174.2,490.6L169.1,490.0L164.0,489.3L158.9,488.6L160.0,482.1L161.0,475.5L162.1,469.0L163.3,462.4L164.4,455.8L165.6,449.1L166.8,442.4L167.4,438.8Z"/>
<path d="M236.7,431.5L241.3,431.9L245.9,432.3L250.5,432.7L255.1,433.1L259.7,433.4L264.2,433.7L268.8,433.9L273.5,434.1L278.1,434.3L282.7,434.4L287.3,434.5L291.9,434.6L296.6,434.6L301.2,434.6L305.9,434.7L303.2,439.4L307.0,443.7L307.1,450.2L307.2,456.6L307.4,463.1L307.6,469.6L306.2,472.3L307.8,476.6L307.4,480.7L308.0,483.6L305.4,481.4L300.3,478.4L296.7,478.6L293.2,478.8L290.1,477.2L287.1,475.7L282.4,475.4L277.8,475.1L273.1,474.7L268.5,474.4L263.9,474.1L259.3,473.7L254.7,473.4L250.2,473.1L245.7,472.8L241.3,472.5L236.9,472.2L232.4,471.8L232.9,465.3L233.4,458.5L233.9,451.7L234.6,444.8L235.7,438.1Z"/>
<path d="M235.5,559.9L240.9,560.5L246.3,561.0L251.7,561.5L257.1,561.9L262.5,562.2L268.0,562.5L267.7,568.9L267.4,575.2L267.1,581.6L266.8,588.0L271.3,590.0L275.7,591.9L279.6,593.3L283.6,594.8L286.9,596.2L290.3,597.6L294.3,598.4L298.3,599.1L302.3,599.2L306.4,599.2L312.1,598.6L317.9,597.9L321.8,599.0L325.7,600.2L329.7,601.3L334.8,602.5L334.9,606.1L334.9,609.8L335.0,614.3L335.1,618.8L335.2,623.3L338.1,628.4L339.6,632.4L341.1,636.4L340.3,641.1L339.5,645.7L338.7,649.8L337.8,653.8L332.2,656.5L326.5,659.2L320.5,664.6L316.1,666.8L311.6,669.0L307.2,671.2L302.3,675.2L297.3,679.2L294.7,685.8L295.2,691.2L295.7,696.6L296.5,700.6L297.4,704.6L293.0,704.1L288.7,703.6L284.4,703.1L280.1,700.7L275.9,698.3L273.1,692.5L270.2,686.7L266.5,680.3L262.7,674.0L259.0,667.6L256.3,662.5L253.6,657.3L248.0,651.4L242.8,651.5L237.7,651.5L232.6,651.4L229.5,656.1L226.4,660.9L221.5,657.6L216.6,654.4L211.7,651.1L210.0,646.2L208.4,641.3L206.7,636.3L202.4,632.2L198.1,628.1L193.9,623.9L190.6,619.0L189.9,615.8L195.0,616.5L200.1,617.1L205.2,617.7L210.3,618.3L215.4,618.9L220.5,619.4L225.6,619.9L230.7,620.3L231.2,613.6L231.8,606.8L232.3,600.1L232.8,593.3L233.4,586.6L233.9,579.9L234.4,573.2L235.0,566.6Z"/>
<path d="M384.6,561.4L389.9,561.1L395.3,560.8L400.6,560.4L400.3,558.0L404.5,557.7L408.7,557.5L412.9,557.2L417.1,556.9L422.5,556.4L427.8,555.9L433.2,555.4L437.9,554.8L442.6,554.3L447.3,553.7L452.6,552.9L457.9,552.1L463.2,551.3L468.4,550.4L465.9,557.6L462.8,558.8L459.7,560.0L454.8,564.2L451.8,566.0L448.7,567.8L445.7,570.3L442.8,576.1L438.2,576.8L433.6,577.4L429.0,577.9L424.3,578.5L419.6,579.0L414.9,579.4L410.2,579.8L405.5,580.2L400.7,580.6L396.0,580.9L391.3,581.2L386.6,581.5L381.8,581.7L377.0,581.9L379.2,580.5L381.0,573.7L382.9,568.3L383.7,564.9Z"/>
<path d="M412.3,642.5L416.2,641.8L420.1,641.0L424.0,640.1L429.3,641.5L434.6,642.9L438.0,648.2L443.1,645.8L448.1,643.4L453.1,640.9L456.9,643.9L460.7,646.8L466.1,653.1L467.7,658.4L469.4,663.7L471.0,669.0L474.3,674.6L477.6,680.1L480.9,685.7L485.4,692.0L490.4,697.8L495.6,703.6L499.8,702.7L504.0,701.7L504.9,697.4L505.8,693.1L505.6,686.9L505.5,680.7L503.1,675.2L500.7,669.7L498.3,664.2L496.0,658.7L492.6,653.6L489.2,648.6L486.9,643.4L484.7,638.2L482.4,633.0L481.3,628.9L478.3,630.5L475.3,632.0L475.1,634.6L473.0,632.0L467.9,632.4L462.8,632.7L457.7,633.1L452.6,633.4L447.5,633.6L442.4,633.9L440.4,630.1L435.5,630.6L430.6,631.1L425.6,631.6L420.7,632.1L415.7,632.6L410.7,633.0L413.4,638.1Z"/>
<path d="M547.3,417.4L547.8,420.9L548.3,424.5L546.0,432.4L545.1,439.9L545.9,446.9L546.7,450.5L550.3,449.5L553.9,448.5L557.4,447.5L559.6,444.4L561.2,443.8L561.6,440.7L557.9,437.3L556.0,431.4L554.1,425.5L552.1,418.9L550.0,412.3Z"/>
<path d="M74.4,637.2L82.2,631.7L92.2,627.2L102.2,624.3L112.2,627.2L123.3,630.1L137.8,632.3L142.2,648.3L146.7,666.1L151.1,683.9L153.3,696.8L160.0,698.8L172.2,700.3L181.1,703.2L188.9,707.7L197.8,713.2L204.4,718.8L206.7,723.2L198.9,725.4L194.4,723.2L190.0,715.4L183.3,708.8L174.4,704.3L163.3,701.7L150.0,699.4L138.9,697.7L130.0,695.4L126.7,691.7L124.4,698.3L120.0,706.1L115.6,708.3L114.4,702.8L118.9,695.0L121.1,690.6L115.6,696.1L110.0,703.9L104.4,709.4L96.7,712.8L93.3,719.4L85.6,725.0L77.8,729.4L68.9,732.8L67.8,731.0L75.6,727.9L83.3,722.8L88.9,717.2L91.1,711.7L86.7,709.4L80.0,708.3L75.6,703.9L71.1,698.3L67.8,693.9L65.6,687.2L68.9,681.7L74.4,678.3L82.2,675.0L85.6,670.6L83.3,666.6L77.8,665.0L72.2,662.8L66.7,658.3L65.6,656.1L73.3,653.9L80.0,653.2L84.4,656.1L82.2,650.6L77.8,643.9ZM48.9,666.1L53.3,665.7L55.6,668.3L53.3,670.6L49.6,669.4ZM57.8,693.9L62.2,693.9L62.9,696.8L58.9,697.2ZM104.4,721.7L110.4,719.9L112.2,722.8L107.8,725.7L104.4,725.0Z"/>
<path d="M186.0,674.4L188.2,674.0L188.9,678.2L186.7,679.3ZM191.8,671.6L195.1,670.7L196.7,673.8L194.4,676.2L191.8,675.1ZM209.6,678.2L213.3,677.3L216.0,680.0L214.9,683.3L210.4,683.3ZM218.4,680.4L225.1,680.4L225.6,682.7L218.9,682.9ZM224.0,685.6L226.7,685.1L227.1,687.8L224.4,688.2ZM228.9,684.9L234.0,684.0L238.0,686.2L238.4,690.0L234.4,692.9L231.1,690.7L229.6,687.8ZM240.0,695.6L244.4,693.3L248.9,698.9L250.4,702.7L245.6,705.6L242.2,708.9L239.6,704.4Z"/>
</g>
<g fill="#dc1a22" stroke="#eef3fb" stroke-width="0.9" stroke-linejoin="round">
<path d="M131.1,470.6L136.0,471.6L141.0,472.5L146.0,473.3L151.0,474.1L156.0,474.8L161.0,475.5L160.0,482.1L158.9,488.6L164.0,489.3L169.1,490.0L174.2,490.6L179.2,491.3L178.3,497.8L177.4,504.4L176.5,511.0L175.6,517.7L174.7,524.4L173.8,531.1L172.8,537.9L171.9,544.6L166.6,543.9L161.3,543.1L156.0,542.3L150.7,541.5L145.4,540.7L140.1,539.8L134.9,538.9L129.6,537.9L124.3,536.9L118.9,535.9L120.3,529.2L121.6,522.6L122.8,516.0L123.9,509.5L125.1,502.9L126.2,496.5L127.4,490.0L128.5,483.6L129.8,477.1Z"/>
<path d="M179.2,491.3L184.3,491.8L189.4,492.4L194.4,493.0L199.5,493.5L204.5,494.0L209.6,494.5L214.6,494.9L219.6,495.4L224.5,495.9L229.5,496.4L234.4,497.2L239.3,498.0L244.3,498.8L249.3,499.5L248.9,506.8L248.6,514.1L248.2,521.1L247.8,527.8L247.4,534.5L247.0,541.1L246.6,547.7L246.2,554.3L241.1,553.8L236.0,553.2L231.1,552.6L226.1,552.0L221.2,551.3L216.2,550.7L211.3,550.0L206.4,549.3L201.4,548.6L196.5,548.0L191.6,547.3L186.6,546.6L181.7,546.0L176.8,545.3L171.9,544.6L172.8,537.9L173.8,531.1L174.7,524.4L175.6,517.7L176.5,511.0L177.4,504.4L178.3,497.8Z"/>
<path d="M366.0,482.3L370.8,482.1L375.6,481.8L380.5,481.5L385.3,481.1L390.2,480.7L395.1,480.3L396.5,484.2L397.9,488.0L399.0,490.4L399.7,496.7L400.3,503.0L401.0,509.2L401.6,515.5L402.3,521.8L402.8,525.8L403.4,529.8L399.2,536.2L398.8,543.0L395.0,548.7L393.8,552.8L390.8,553.7L387.9,554.5L383.7,550.7L381.1,546.8L378.6,543.0L373.4,539.2L374.7,534.5L374.4,531.1L368.8,528.7L365.0,524.2L361.3,519.7L359.5,517.2L360.0,510.8L363.1,506.4L363.9,503.7L362.6,499.8L367.5,495.6L371.3,491.4L371.0,487.4Z"/>
<path d="M399.0,490.4L402.6,489.8L406.2,489.1L410.4,488.8L414.5,488.5L418.7,488.2L422.9,487.8L427.1,487.5L427.8,493.2L428.5,498.9L429.3,504.6L430.0,510.3L430.7,516.1L431.4,521.8L428.6,524.9L425.7,528.0L422.7,534.2L420.5,538.1L415.2,539.4L412.1,540.7L409.0,542.1L404.0,540.5L398.8,543.0L399.2,536.2L403.4,529.8L402.8,525.8L402.3,521.8L401.6,515.5L401.0,509.2L400.3,503.0L399.7,496.7Z"/>
<path d="M440.9,485.2L442.1,481.3L443.4,477.3L446.0,472.2L448.6,467.2L447.0,461.3L445.3,455.5L441.0,454.1L436.9,457.3L432.8,460.6L435.2,455.8L437.6,451.1L436.9,446.5L436.2,441.8L431.8,439.0L427.4,436.1L424.0,434.6L420.6,433.1L418.8,438.5L414.5,444.4L413.8,447.2L410.9,448.2L408.0,449.2L407.1,454.0L406.1,458.9L407.7,464.1L409.3,469.4L411.1,475.9L410.0,480.1L409.0,484.2L406.2,489.1L410.4,488.8L414.5,488.5L418.7,488.2L422.9,487.8L427.1,487.5L431.7,486.7L436.3,486.0ZM364.6,426.8L368.9,424.7L373.2,422.6L377.9,420.0L382.5,417.3L385.2,415.4L387.9,413.6L386.3,417.4L384.7,421.3L389.2,423.3L393.7,425.3L398.2,424.4L402.6,423.5L407.1,422.5L411.8,421.3L416.5,420.1L419.8,421.6L423.2,423.0L427.5,429.3L424.1,430.1L420.8,430.8L417.8,430.5L413.0,431.3L408.1,432.2L403.4,434.3L398.7,436.5L396.2,440.8L393.6,445.1L391.3,441.2L387.8,436.0L382.8,434.3L377.8,432.6L373.4,430.7L369.0,428.7Z"/>
<path d="M468.4,550.4L473.6,549.6L478.7,548.8L483.8,547.9L488.9,547.1L494.0,546.2L499.1,545.3L504.1,544.4L509.2,543.5L514.3,542.5L519.4,541.6L524.4,540.6L529.5,539.5L531.7,545.1L534.0,550.7L536.3,556.3L532.0,561.6L527.6,566.9L522.1,567.4L518.0,573.7L513.8,580.1L510.5,580.7L507.3,581.2L502.5,577.8L497.8,574.3L493.1,570.8L488.7,571.6L484.4,572.4L480.0,573.1L477.9,570.0L477.7,568.7L472.9,569.3L468.0,569.8L463.2,570.4L459.6,572.3L456.0,574.2L451.6,574.9L447.2,575.5L442.8,576.1L445.7,570.3L448.7,567.8L451.8,566.0L454.8,564.2L459.7,560.0L462.8,558.8L465.9,557.6Z"/>
<path d="M522.0,467.8L517.2,468.8L512.3,469.8L507.4,470.8L502.5,471.7L497.6,472.6L492.7,473.5L487.7,474.4L482.8,475.2L477.9,476.1L477.3,472.6L474.1,474.7L470.2,477.6L471.1,483.3L472.0,489.0L472.9,494.8L473.8,500.7L474.7,506.6L478.2,506.0L481.8,505.5L485.3,504.9L490.0,504.1L494.6,503.3L499.3,502.5L503.9,501.7L508.5,500.8L513.2,499.9L517.7,498.9L522.4,497.9L524.0,496.1L526.1,496.1L528.6,494.2L531.8,489.5L526.3,484.1L526.6,480.1L529.8,474.6L525.8,472.2Z"/>
<path d="M546.7,450.5L550.3,449.5L553.9,448.5L557.4,447.5L559.6,444.4L561.2,443.8L564.0,446.1L561.4,451.2L566.0,455.4L569.9,457.0L572.5,455.4L571.4,452.9L569.8,452.7L572.5,453.3L573.5,457.2L570.4,459.0L567.3,460.7L566.4,458.9L563.1,462.8L559.4,458.3L559.0,456.7L555.1,458.0L551.2,459.1L547.3,460.2L543.4,461.3L539.4,462.3L539.4,457.4L539.3,452.5L543.0,451.5Z"/>
</g>
<g fill="#bfc0c3" stroke="#eef3fb" stroke-width="0.5" stroke-linejoin="round">
<path d="M56.7,735.4L62.2,735.0L62.9,737.2L57.1,737.9ZM45.6,736.8L52.2,736.3L52.7,738.3L46.0,738.8ZM34.4,738.6L41.1,737.9L41.6,739.7L34.9,740.1Z"/>
</g>
<g fill="none" stroke="#6c707c" stroke-width="1.25">
<path d="M541,389L549,389L549,410"/>
<path d="M529,407.5L537.5,407.5L537.5,416"/>
<path d="M568,449.5L578,449.5"/>
<path d="M566,465.8L578,465.8"/>
<path d="M552.6,474.3L552.6,480.6L578,480.6"/>
<path d="M545,496.5L578,496.5"/>
<path d="M536,513L578,513"/>
<path d="M529,525L529,528.8L578,528.8"/>
</g>
</svg>
<div class="t" style="left:22.27px;top:82.91px;font-size:11.8px;font-weight:700;color:#fbeeee;transform:scaleX(0.9313);transform-origin:50% 0;">REBOOT</div>
<div class="t" style="left:28.81px;top:95.71px;font-size:11.8px;font-weight:700;color:#fbeeee;transform:scaleX(0.9365);transform-origin:50% 0;">Illinois</div>
<div class="t" style="left:102.60px;top:22.38px;font-size:24px;font-weight:700;color:#fff;transform:scaleX(0.5742);transform-origin:0 0;">FLAT TAX? PROGRESSIVE TAX? NO TAX?</div>
<div class="t" style="left:102.80px;top:51.10px;font-size:65.8px;font-weight:700;color:#fff;transform:scaleX(0.5609);transform-origin:0 0;text-shadow:1.1px 0 0 #fff,-1.1px 0 0 #fff;">A NATIONWIDE OVERVIEW</div>
<div class="t" style="left:24.40px;top:144.82px;font-size:13.8px;font-weight:700;transform:scaleX(0.9213);transform-origin:0 0;">ILLINOIS ENACTED ITS FIRST INCOME TAX</div>
<div class="t" style="left:293.00px;top:144.82px;font-size:13.8px;transform:scaleX(0.9613);transform-origin:0 0;-webkit-text-stroke:0.25px #231f20;">in 1969 with a personal tax rate of 2.5 pecent. It has</div>
<div class="t" style="left:24.40px;top:164.52px;font-size:13.8px;transform:scaleX(0.9758);transform-origin:0 0;-webkit-text-stroke:0.25px #231f20;">been raised three times since then, including to 5 percent in 2011 because of the temporary</div>
<div class="t" style="left:24.40px;top:184.22px;font-size:13.8px;transform:scaleX(0.9710);transform-origin:0 0;-webkit-text-stroke:0.25px #231f20;">income tax hike. It dropped to 3.75 percent in 2015 and is scheduled to drop to 3.25 percent a</div>
<div class="t" style="left:24.40px;top:203.92px;font-size:13.8px;transform:scaleX(0.9732);transform-origin:0 0;-webkit-text-stroke:0.25px #231f20;">decade later. The Illinois Constitution in 1970 required the the state income tax be applied at a</div>
<div class="t" style="left:24.40px;top:223.62px;font-size:13.8px;transform:scaleX(0.9495);transform-origin:0 0;-webkit-text-stroke:0.25px #231f20;">flat rate regardless of a taxpayer’s income.</div>
<div class="t" style="left:24.40px;top:251.42px;font-size:13.8px;font-weight:700;transform:scaleX(0.9003);transform-origin:0 0;">WITH THE STATE MIRED IN A FUNDING CRISIS</div>
<div class="t" style="left:306.00px;top:251.42px;font-size:13.8px;transform:scaleX(0.9961);transform-origin:0 0;-webkit-text-stroke:0.25px #231f20;">that has built its backlog of unpaid bills well into</div>
<div class="t" style="left:24.40px;top:271.22px;font-size:13.8px;transform:scaleX(0.9785);transform-origin:0 0;-webkit-text-stroke:0.25px #231f20;">the billions and its required payments to employees pension systems consume nearly one-fourth</div>
<div class="t" style="left:24.40px;top:291.02px;font-size:13.8px;transform:scaleX(0.9834);transform-origin:0 0;-webkit-text-stroke:0.25px #231f20;">of its budget, some say it’s time to amend the constitution and adopt a graduated income tax</div>
<div class="t" style="left:24.40px;top:310.82px;font-size:13.8px;transform:scaleX(0.9924);transform-origin:0 0;-webkit-text-stroke:0.25px #231f20;">system in which those with higher incomes pay higher tax rates.</div>
<div class="t" style="left:64.00px;top:753.12px;font-size:21px;font-weight:700;transform:scaleX(0.5357);transform-origin:0 0;text-shadow:0.3px 0 0 #231f20,-0.3px 0 0 #231f20;">STATES WITH NO INCOME TAX</div>
<div class="t" style="left:27.00px;top:780.76px;font-size:14.1px;transform:scaleX(0.9403);transform-origin:0 0;-webkit-text-stroke:0.25px #231f20;">Alaska, Florida, Nevada, New Hampshire,</div>
<div class="t" style="left:27.00px;top:798.56px;font-size:14.1px;transform:scaleX(0.9364);transform-origin:0 0;-webkit-text-stroke:0.25px #231f20;">South Dakota, Tennessee, Texas, Washington</div>
<div class="t" style="left:27.00px;top:816.36px;font-size:14.1px;transform:scaleX(0.9704);transform-origin:0 0;-webkit-text-stroke:0.25px #231f20;">and Wyoming</div>
<div class="t" style="left:64.20px;top:863.02px;font-size:21px;font-weight:700;transform:scaleX(0.5121);transform-origin:0 0;text-shadow:0.3px 0 0 #231f20,-0.3px 0 0 #231f20;">FLAT TAX STATES</div>
<div class="t" style="left:25.90px;top:895.50px;font-size:8.5px;color:#33364a;transform:scaleX(1.0917);transform-origin:0 0;">PENNSYLVANIA</div>
<div class="t" style="left:123.15px;top:911.51px;font-size:11.8px;font-weight:700;color:#fff;transform:scaleX(1.0600);transform-origin:100% 0;">3.07%</div>
<div class="t" style="left:25.90px;top:935.00px;font-size:8.5px;color:#33364a;transform:scaleX(1.1338);transform-origin:0 0;">INDIANA</div>
<div class="t" style="left:140.61px;top:951.01px;font-size:11.8px;font-weight:700;color:#fff;transform:scaleX(1.0600);transform-origin:100% 0;">3.3%</div>
<div class="t" style="left:25.90px;top:974.50px;font-size:8.5px;color:#33364a;transform:scaleX(1.0752);transform-origin:0 0;">ILLINOIS</div>
<div class="t" style="left:153.05px;top:990.51px;font-size:11.8px;font-weight:700;color:#fff;transform:scaleX(1.0600);transform-origin:100% 0;">3.75%</div>
<div class="t" style="left:25.90px;top:1014.00px;font-size:8.5px;color:#33364a;transform:scaleX(1.0965);transform-origin:0 0;">MICHIGAN</div>
<div class="t" style="left:177.55px;top:1030.01px;font-size:11.8px;font-weight:700;color:#fff;transform:scaleX(1.0600);transform-origin:100% 0;">4.25%</div>
<div class="t" style="left:25.90px;top:1053.50px;font-size:8.5px;color:#33364a;transform:scaleX(1.0913);transform-origin:0 0;">COLORADO</div>
<div class="t" style="left:194.05px;top:1069.51px;font-size:11.8px;font-weight:700;color:#fff;transform:scaleX(1.0600);transform-origin:100% 0;">4.63%</div>
<div class="t" style="left:25.90px;top:1093.00px;font-size:8.5px;color:#33364a;transform:scaleX(1.0704);transform-origin:0 0;">UTAH</div>
<div class="t" style="left:225.94px;top:1109.01px;font-size:11.8px;font-weight:700;color:#fff;transform:scaleX(1.0600);transform-origin:100% 0;">5%</div>
<div class="t" style="left:25.90px;top:1132.50px;font-size:8.5px;color:#33364a;transform:scaleX(1.0466);transform-origin:0 0;">MASSACHUSETTS</div>
<div class="t" style="left:214.05px;top:1148.51px;font-size:11.8px;font-weight:700;color:#fff;transform:scaleX(1.0600);transform-origin:100% 0;">5.10%</div>
<div class="t" style="left:25.90px;top:1172.00px;font-size:8.5px;color:#33364a;transform:scaleX(1.0950);transform-origin:0 0;">NORTH CAROLINA</div>
<div class="t" style="left:243.55px;top:1188.01px;font-size:11.8px;font-weight:700;color:#fff;transform:scaleX(1.0600);transform-origin:100% 0;">5.75%</div>
<div class="t" style="left:372.20px;top:753.12px;font-size:21px;font-weight:700;transform:scaleX(0.5156);transform-origin:0 0;text-shadow:0.3px 0 0 #231f20,-0.3px 0 0 #231f20;">PROGRESSIVE TAX STATES</div>
<div class="t" style="left:335.00px;top:781.10px;font-size:13.7px;letter-spacing:0.3px;transform:scaleX(0.9271);transform-origin:0 0;-webkit-text-stroke:0.25px #231f20;">33 states have progressive tax systems based</div>
<div class="t" style="left:335.00px;top:798.90px;font-size:13.7px;letter-spacing:0.3px;transform:scaleX(0.9445);transform-origin:0 0;-webkit-text-stroke:0.25px #231f20;">on varying tax rates at varying income levels.</div>
<div class="t" style="left:335.00px;top:816.70px;font-size:13.7px;letter-spacing:0.3px;transform:scaleX(0.9435);transform-origin:0 0;-webkit-text-stroke:0.25px #231f20;">For details on tax brackets, see table below.</div>
<div class="t" style="left:342.00px;top:847.15px;font-size:19.2px;font-weight:700;color:#fff;transform:scaleX(0.5608);transform-origin:0 0;">PROS</div>
<div class="t" style="left:335.20px;top:880.96px;font-size:14.1px;font-weight:700;">•</div>
<div class="t" style="left:342.50px;top:880.96px;font-size:14.1px;font-weight:700;transform:scaleX(0.9150);transform-origin:0 0;">Imposes taxes based on ability to pay</div>
<div class="t" style="left:335.20px;top:903.46px;font-size:14.1px;font-weight:700;">•</div>
<div class="t" style="left:342.50px;top:903.46px;font-size:14.1px;font-weight:700;transform:scaleX(0.9206);transform-origin:0 0;">Promotes income equality</div>
<div class="t" style="left:335.20px;top:925.96px;font-size:14.1px;font-weight:700;">•</div>
<div class="t" style="left:342.50px;top:925.96px;font-size:14.1px;font-weight:700;transform:scaleX(0.9192);transform-origin:0 0;">Income tax receipts grow with economy</div>
<div class="t" style="left:335.20px;top:948.46px;font-size:14.1px;font-weight:700;">•</div>
<div class="t" style="left:342.50px;top:948.46px;font-size:14.1px;font-weight:700;transform:scaleX(0.9306);transform-origin:0 0;">More revenue for the state</div>
<div class="t" style="left:342.00px;top:986.85px;font-size:19.2px;font-weight:700;color:#fff;transform:scaleX(0.5502);transform-origin:0 0;">CONS</div>
<div class="t" style="left:336.00px;top:1020.86px;font-size:14.1px;font-weight:700;">•</div>
<div class="t" style="left:343.80px;top:1020.86px;font-size:14.1px;font-weight:700;transform:scaleX(0.9100);transform-origin:0 0;">Imposes a “discriminatory penalty” on</div>
<div class="t" style="left:343.80px;top:1039.36px;font-size:14.1px;font-weight:700;transform:scaleX(0.9215);transform-origin:0 0;">those who earn more as a result of talent,</div>
<div class="t" style="left:343.80px;top:1057.86px;font-size:14.1px;font-weight:700;transform:scaleX(0.9071);transform-origin:0 0;">creativity, hard work and success</div>
<div class="t" style="left:336.00px;top:1084.76px;font-size:14.1px;font-weight:700;">•</div>
<div class="t" style="left:343.80px;top:1084.76px;font-size:14.1px;font-weight:700;transform:scaleX(0.9041);transform-origin:0 0;">Encourages the wealthy to be less</div>
<div class="t" style="left:343.80px;top:1103.26px;font-size:14.1px;font-weight:700;transform:scaleX(0.9360);transform-origin:0 0;">transparent about their income and find</div>
<div class="t" style="left:343.80px;top:1121.76px;font-size:14.1px;font-weight:700;transform:scaleX(0.9402);transform-origin:0 0;">alternative income methods to limit tax</div>
<div class="t" style="left:343.80px;top:1140.26px;font-size:14.1px;font-weight:700;transform:scaleX(0.9339);transform-origin:0 0;">obligations</div>
<div class="t" style="left:336.00px;top:1167.16px;font-size:14.1px;font-weight:700;">•</div>
<div class="t" style="left:343.80px;top:1167.16px;font-size:14.1px;font-weight:700;transform:scaleX(0.9052);transform-origin:0 0;">Creates a more complicated system</div>
<div class="t" style="left:343.80px;top:1185.66px;font-size:14.1px;font-weight:700;transform:scaleX(0.9174);transform-origin:0 0;">of bureaucracy</div>
<div class="t" style="left:25.80px;top:1244.22px;font-size:21px;font-weight:700;transform:scaleX(0.5335);transform-origin:0 0;text-shadow:0.3px 0 0 #231f20,-0.3px 0 0 #231f20;">STATES WITH GRADUATED INCOME TAXES</div>
<div class="t" style="left:119.62px;top:1296.32px;font-size:8.6px;font-weight:700;color:#1d1d26;transform:scaleX(1.0500);transform-origin:50% 0;">RATE</div>
<div class="t" style="left:109.99px;top:1285.42px;font-size:8.6px;font-weight:700;color:#1d1d26;transform:scaleX(1.0500);transform-origin:50% 0;">BRACKET</div>
<div class="t" style="left:112.62px;top:1274.52px;font-size:8.6px;font-weight:700;color:#1d1d26;transform:scaleX(1.0500);transform-origin:50% 0;">LOWEST</div>
<div class="t" style="left:164.52px;top:1296.32px;font-size:8.6px;font-weight:700;color:#1d1d26;transform:scaleX(1.0500);transform-origin:50% 0;">UP TO</div>
<div class="t" style="left:160.31px;top:1285.42px;font-size:8.6px;font-weight:700;color:#1d1d26;transform:scaleX(1.0500);transform-origin:50% 0;">INCOME</div>
<div class="t" style="left:215.12px;top:1296.32px;font-size:8.6px;font-weight:700;color:#1d1d26;transform:scaleX(1.0500);transform-origin:50% 0;">RATE</div>
<div class="t" style="left:205.49px;top:1285.42px;font-size:8.6px;font-weight:700;color:#1d1d26;transform:scaleX(1.0500);transform-origin:50% 0;">BRACKET</div>
<div class="t" style="left:207.40px;top:1274.52px;font-size:8.6px;font-weight:700;color:#1d1d26;transform:scaleX(1.0500);transform-origin:50% 0;">HIGHEST</div>
<div class="t" style="left:259.72px;top:1296.32px;font-size:8.6px;font-weight:700;color:#1d1d26;transform:scaleX(1.0500);transform-origin:50% 0;">ABOVE</div>
<div class="t" style="left:257.81px;top:1285.42px;font-size:8.6px;font-weight:700;color:#1d1d26;transform:scaleX(1.0500);transform-origin:50% 0;">INCOME</div>
<div class="t" style="left:28.20px;top:1317.08px;font-size:9px;color:#3a3d52;transform:scaleX(1.0651);transform-origin:0 0;">ALABAMA</div>
<div class="t" style="left:114.83px;top:1315.46px;font-size:12.8px;font-weight:700;color:#16161d;transform:scaleX(0.6800);transform-origin:100% 0;">2.0%</div>
<div class="t" style="left:161.93px;top:1315.46px;font-size:12.8px;font-weight:700;color:#16161d;transform:scaleX(0.6800);transform-origin:100% 0;">$500</div>
<div class="t" style="left:208.43px;top:1315.46px;font-size:12.8px;font-weight:700;color:#16161d;transform:scaleX(0.6800);transform-origin:100% 0;">5.0%</div>
<div class="t" style="left:248.86px;top:1315.46px;font-size:12.8px;font-weight:700;color:#16161d;transform:scaleX(0.6800);transform-origin:100% 0;">$3,000</div>
<div class="t" style="left:28.20px;top:1337.08px;font-size:9px;color:#3a3d52;transform:scaleX(1.0446);transform-origin:0 0;">ARIZONA</div>
<div class="t" style="left:107.70px;top:1335.46px;font-size:12.8px;font-weight:700;color:#16161d;transform:scaleX(0.6800);transform-origin:100% 0;">2.59%</div>
<div class="t" style="left:144.13px;top:1335.46px;font-size:12.8px;font-weight:700;color:#16161d;transform:scaleX(0.6800);transform-origin:100% 0;">$10,000</div>
<div class="t" style="left:201.30px;top:1335.46px;font-size:12.8px;font-weight:700;color:#16161d;transform:scaleX(0.6800);transform-origin:100% 0;">4.54%</div>
<div class="t" style="left:234.62px;top:1335.46px;font-size:12.8px;font-weight:700;color:#16161d;transform:scaleX(0.6800);transform-origin:100% 0;">$150,000</div>
<div class="t" style="left:28.20px;top:1357.08px;font-size:9px;color:#3a3d52;transform:scaleX(1.0157);transform-origin:0 0;">ARKANSAS</div>
<div class="t" style="left:114.83px;top:1355.46px;font-size:12.8px;font-weight:700;color:#16161d;transform:scaleX(0.6800);transform-origin:100% 0;">0.9%</div>
<div class="t" style="left:151.26px;top:1355.46px;font-size:12.8px;font-weight:700;color:#16161d;transform:scaleX(0.6800);transform-origin:100% 0;">$4,299</div>
<div class="t" style="left:208.43px;top:1355.46px;font-size:12.8px;font-weight:700;color:#16161d;transform:scaleX(0.6800);transform-origin:100% 0;">6.9%</div>
<div class="t" style="left:241.73px;top:1355.46px;font-size:12.8px;font-weight:700;color:#16161d;transform:scaleX(0.6800);transform-origin:100% 0;">$35,099</div>
<div class="t" style="left:28.20px;top:1377.08px;font-size:9px;color:#3a3d52;transform:scaleX(1.0145);transform-origin:0 0;">CALIFORNIA</div>
<div class="t" style="left:114.83px;top:1375.46px;font-size:12.8px;font-weight:700;color:#16161d;transform:scaleX(0.6800);transform-origin:100% 0;">1.0%</div>
<div class="t" style="left:151.26px;top:1375.46px;font-size:12.8px;font-weight:700;color:#16161d;transform:scaleX(0.6800);transform-origin:100% 0;">$7,850</div>
<div class="t" style="left:201.30px;top:1375.46px;font-size:12.8px;font-weight:700;color:#16161d;transform:scaleX(0.6800);transform-origin:100% 0;">13.3%</div>
<div class="t" style="left:223.94px;top:1375.46px;font-size:12.8px;font-weight:700;color:#16161d;transform:scaleX(0.6800);transform-origin:100% 0;">$1,000,000</div>
<div class="t" style="left:28.20px;top:1397.08px;font-size:9px;color:#3a3d52;transform:scaleX(0.9893);transform-origin:0 0;">CONNECTICUT</div>
<div class="t" style="left:114.83px;top:1395.46px;font-size:12.8px;font-weight:700;color:#16161d;transform:scaleX(0.6800);transform-origin:100% 0;">3.0%</div>
<div class="t" style="left:144.13px;top:1395.46px;font-size:12.8px;font-weight:700;color:#16161d;transform:scaleX(0.6800);transform-origin:100% 0;">$10,000</div>
<div class="t" style="left:201.30px;top:1395.46px;font-size:12.8px;font-weight:700;color:#16161d;transform:scaleX(0.6800);transform-origin:100% 0;">6.99%</div>
<div class="t" style="left:234.62px;top:1395.46px;font-size:12.8px;font-weight:700;color:#16161d;transform:scaleX(0.6800);transform-origin:100% 0;">$500,000</div>
<div class="t" style="left:28.20px;top:1417.08px;font-size:9px;color:#3a3d52;transform:scaleX(1.0092);transform-origin:0 0;">DELAWARE</div>
<div class="t" style="left:114.83px;top:1415.46px;font-size:12.8px;font-weight:700;color:#16161d;transform:scaleX(0.6800);transform-origin:100% 0;">2.2%</div>
<div class="t" style="left:151.26px;top:1415.46px;font-size:12.8px;font-weight:700;color:#16161d;transform:scaleX(0.6800);transform-origin:100% 0;">$2,000</div>
<div class="t" style="left:208.43px;top:1415.46px;font-size:12.8px;font-weight:700;color:#16161d;transform:scaleX(0.6800);transform-origin:100% 0;">6.6%</div>
<div class="t" style="left:241.73px;top:1415.46px;font-size:12.8px;font-weight:700;color:#16161d;transform:scaleX(0.6800);transform-origin:100% 0;">$60,000</div>
<div class="t" style="left:28.20px;top:1437.08px;font-size:9px;color:#3a3d52;transform:scaleX(0.9711);transform-origin:0 0;">GEORGIA</div>
<div class="t" style="left:114.83px;top:1435.46px;font-size:12.8px;font-weight:700;color:#16161d;transform:scaleX(0.6800);transform-origin:100% 0;">1.0%</div>
<div class="t" style="left:161.93px;top:1435.46px;font-size:12.8px;font-weight:700;color:#16161d;transform:scaleX(0.6800);transform-origin:100% 0;">$750</div>
<div class="t" style="left:208.43px;top:1435.46px;font-size:12.8px;font-weight:700;color:#16161d;transform:scaleX(0.6800);transform-origin:100% 0;">6.0%</div>
<div class="t" style="left:248.86px;top:1435.46px;font-size:12.8px;font-weight:700;color:#16161d;transform:scaleX(0.6800);transform-origin:100% 0;">$7,000</div>
<div class="t" style="left:28.20px;top:1457.08px;font-size:9px;color:#3a3d52;transform:scaleX(1.0146);transform-origin:0 0;">HAWAII</div>
<div class="t" style="left:114.83px;top:1455.46px;font-size:12.8px;font-weight:700;color:#16161d;transform:scaleX(0.6800);transform-origin:100% 0;">1.4%</div>
<div class="t" style="left:151.26px;top:1455.46px;font-size:12.8px;font-weight:700;color:#16161d;transform:scaleX(0.6800);transform-origin:100% 0;">$2,400</div>
<div class="t" style="left:201.30px;top:1455.46px;font-size:12.8px;font-weight:700;color:#16161d;transform:scaleX(0.6800);transform-origin:100% 0;">8.25%</div>
<div class="t" style="left:241.73px;top:1455.46px;font-size:12.8px;font-weight:700;color:#16161d;transform:scaleX(0.6800);transform-origin:100% 0;">$48,000</div>
<div class="t" style="left:28.20px;top:1477.08px;font-size:9px;color:#3a3d52;transform:scaleX(1.0100);transform-origin:0 0;">IDAHO</div>
<div class="t" style="left:114.83px;top:1475.46px;font-size:12.8px;font-weight:700;color:#16161d;transform:scaleX(0.6800);transform-origin:100% 0;">1.6%</div>
<div class="t" style="left:151.26px;top:1475.46px;font-size:12.8px;font-weight:700;color:#16161d;transform:scaleX(0.6800);transform-origin:100% 0;">$1,452</div>
<div class="t" style="left:208.43px;top:1475.46px;font-size:12.8px;font-weight:700;color:#16161d;transform:scaleX(0.6800);transform-origin:100% 0;">7.4%</div>
<div class="t" style="left:241.73px;top:1475.46px;font-size:12.8px;font-weight:700;color:#16161d;transform:scaleX(0.6800);transform-origin:100% 0;">$10,890</div>
<div class="t" style="left:28.20px;top:1497.08px;font-size:9px;color:#3a3d52;transform:scaleX(1.0265);transform-origin:0 0;">IOWA</div>
<div class="t" style="left:114.83px;top:1495.46px;font-size:12.8px;font-weight:700;color:#16161d;transform:scaleX(0.6800);transform-origin:100% 0;">.36%</div>
<div class="t" style="left:151.26px;top:1495.46px;font-size:12.8px;font-weight:700;color:#16161d;transform:scaleX(0.6800);transform-origin:100% 0;">$1,554</div>
<div class="t" style="left:201.30px;top:1495.46px;font-size:12.8px;font-weight:700;color:#16161d;transform:scaleX(0.6800);transform-origin:100% 0;">8.98%</div>
<div class="t" style="left:241.73px;top:1495.46px;font-size:12.8px;font-weight:700;color:#16161d;transform:scaleX(0.6800);transform-origin:100% 0;">$69,930</div>
<div class="t" style="left:28.20px;top:1517.08px;font-size:9px;color:#3a3d52;transform:scaleX(1.0078);transform-origin:0 0;">KANSAS</div>
<div class="t" style="left:114.83px;top:1515.46px;font-size:12.8px;font-weight:700;color:#16161d;transform:scaleX(0.6800);transform-origin:100% 0;">2.7%</div>
<div class="t" style="left:144.13px;top:1515.46px;font-size:12.8px;font-weight:700;color:#16161d;transform:scaleX(0.6800);transform-origin:100% 0;">$15,000</div>
<div class="t" style="left:208.43px;top:1515.46px;font-size:12.8px;font-weight:700;color:#16161d;transform:scaleX(0.6800);transform-origin:100% 0;">4.6%</div>
<div class="t" style="left:241.73px;top:1515.46px;font-size:12.8px;font-weight:700;color:#16161d;transform:scaleX(0.6800);transform-origin:100% 0;">$15,000</div>
<div class="t" style="left:28.20px;top:1537.08px;font-size:9px;color:#3a3d52;transform:scaleX(0.9854);transform-origin:0 0;">KENTUCKY</div>
<div class="t" style="left:114.83px;top:1535.46px;font-size:12.8px;font-weight:700;color:#16161d;transform:scaleX(0.6800);transform-origin:100% 0;">2.0%</div>
<div class="t" style="left:151.26px;top:1535.46px;font-size:12.8px;font-weight:700;color:#16161d;transform:scaleX(0.6800);transform-origin:100% 0;">$3,000</div>
<div class="t" style="left:208.43px;top:1535.46px;font-size:12.8px;font-weight:700;color:#16161d;transform:scaleX(0.6800);transform-origin:100% 0;">6.0%</div>
<div class="t" style="left:241.73px;top:1535.46px;font-size:12.8px;font-weight:700;color:#16161d;transform:scaleX(0.6800);transform-origin:100% 0;">$75,000</div>
<div class="t" style="left:28.20px;top:1557.08px;font-size:9px;color:#3a3d52;transform:scaleX(1.0267);transform-origin:0 0;">LOUISIANA</div>
<div class="t" style="left:114.83px;top:1555.46px;font-size:12.8px;font-weight:700;color:#16161d;transform:scaleX(0.6800);transform-origin:100% 0;">2.0%</div>
<div class="t" style="left:144.13px;top:1555.46px;font-size:12.8px;font-weight:700;color:#16161d;transform:scaleX(0.6800);transform-origin:100% 0;">$12,500</div>
<div class="t" style="left:208.43px;top:1555.46px;font-size:12.8px;font-weight:700;color:#16161d;transform:scaleX(0.6800);transform-origin:100% 0;">6.0%</div>
<div class="t" style="left:241.73px;top:1555.46px;font-size:12.8px;font-weight:700;color:#16161d;transform:scaleX(0.6800);transform-origin:100% 0;">$50,000</div>
<div class="t" style="left:28.20px;top:1577.08px;font-size:9px;color:#3a3d52;transform:scaleX(0.9924);transform-origin:0 0;">MAINE</div>
<div class="t" style="left:114.83px;top:1575.46px;font-size:12.8px;font-weight:700;color:#16161d;transform:scaleX(0.6800);transform-origin:100% 0;">5.8%</div>
<div class="t" style="left:144.13px;top:1575.46px;font-size:12.8px;font-weight:700;color:#16161d;transform:scaleX(0.6800);transform-origin:100% 0;">$21,049</div>
<div class="t" style="left:201.30px;top:1575.46px;font-size:12.8px;font-weight:700;color:#16161d;transform:scaleX(0.6800);transform-origin:100% 0;">7.15%</div>
<div class="t" style="left:241.73px;top:1575.46px;font-size:12.8px;font-weight:700;color:#16161d;transform:scaleX(0.6800);transform-origin:100% 0;">$37,499</div>
<div class="t" style="left:28.20px;top:1597.08px;font-size:9px;color:#3a3d52;transform:scaleX(1.0189);transform-origin:0 0;">MARYLAND</div>
<div class="t" style="left:114.83px;top:1595.46px;font-size:12.8px;font-weight:700;color:#16161d;transform:scaleX(0.6800);transform-origin:100% 0;">2.0%</div>
<div class="t" style="left:151.26px;top:1595.46px;font-size:12.8px;font-weight:700;color:#16161d;transform:scaleX(0.6800);transform-origin:100% 0;">$1,000</div>
<div class="t" style="left:201.30px;top:1595.46px;font-size:12.8px;font-weight:700;color:#16161d;transform:scaleX(0.6800);transform-origin:100% 0;">5.75%</div>
<div class="t" style="left:234.62px;top:1595.46px;font-size:12.8px;font-weight:700;color:#16161d;transform:scaleX(0.6800);transform-origin:100% 0;">$250,000</div>
<div class="t" style="left:28.20px;top:1617.08px;font-size:9px;color:#3a3d52;transform:scaleX(0.9897);transform-origin:0 0;">MINNESOTA</div>
<div class="t" style="left:107.70px;top:1615.46px;font-size:12.8px;font-weight:700;color:#16161d;transform:scaleX(0.6800);transform-origin:100% 0;">5.35%</div>
<div class="t" style="left:144.13px;top:1615.46px;font-size:12.8px;font-weight:700;color:#16161d;transform:scaleX(0.6800);transform-origin:100% 0;">$25,180</div>
<div class="t" style="left:201.30px;top:1615.46px;font-size:12.8px;font-weight:700;color:#16161d;transform:scaleX(0.6800);transform-origin:100% 0;">9.85%</div>
<div class="t" style="left:234.62px;top:1615.46px;font-size:12.8px;font-weight:700;color:#16161d;transform:scaleX(0.6800);transform-origin:100% 0;">$155,650</div>
<div class="t" style="left:28.20px;top:1637.08px;font-size:9px;color:#3a3d52;transform:scaleX(0.9210);transform-origin:0 0;">MISSISSIPPI</div>
<div class="t" style="left:114.83px;top:1635.46px;font-size:12.8px;font-weight:700;color:#16161d;transform:scaleX(0.6800);transform-origin:100% 0;">3.0%</div>
<div class="t" style="left:151.26px;top:1635.46px;font-size:12.8px;font-weight:700;color:#16161d;transform:scaleX(0.6800);transform-origin:100% 0;">$5,000</div>
<div class="t" style="left:208.43px;top:1635.46px;font-size:12.8px;font-weight:700;color:#16161d;transform:scaleX(0.6800);transform-origin:100% 0;">5.0%</div>
<div class="t" style="left:241.73px;top:1635.46px;font-size:12.8px;font-weight:700;color:#16161d;transform:scaleX(0.6800);transform-origin:100% 0;">$10,000</div>
<div class="t" style="left:433.42px;top:1296.32px;font-size:8.6px;font-weight:700;color:#1d1d26;transform:scaleX(1.0500);transform-origin:50% 0;">RATE</div>
<div class="t" style="left:423.79px;top:1285.42px;font-size:8.6px;font-weight:700;color:#1d1d26;transform:scaleX(1.0500);transform-origin:50% 0;">BRACKET</div>
<div class="t" style="left:426.42px;top:1274.52px;font-size:8.6px;font-weight:700;color:#1d1d26;transform:scaleX(1.0500);transform-origin:50% 0;">LOWEST</div>
<div class="t" style="left:477.52px;top:1296.32px;font-size:8.6px;font-weight:700;color:#1d1d26;transform:scaleX(1.0500);transform-origin:50% 0;">UP TO</div>
<div class="t" style="left:473.31px;top:1285.42px;font-size:8.6px;font-weight:700;color:#1d1d26;transform:scaleX(1.0500);transform-origin:50% 0;">INCOME</div>
<div class="t" style="left:528.62px;top:1296.32px;font-size:8.6px;font-weight:700;color:#1d1d26;transform:scaleX(1.0500);transform-origin:50% 0;">RATE</div>
<div class="t" style="left:518.99px;top:1285.42px;font-size:8.6px;font-weight:700;color:#1d1d26;transform:scaleX(1.0500);transform-origin:50% 0;">BRACKET</div>
<div class="t" style="left:520.90px;top:1274.52px;font-size:8.6px;font-weight:700;color:#1d1d26;transform:scaleX(1.0500);transform-origin:50% 0;">HIGHEST</div>
<div class="t" style="left:573.72px;top:1296.32px;font-size:8.6px;font-weight:700;color:#1d1d26;transform:scaleX(1.0500);transform-origin:50% 0;">ABOVE</div>
<div class="t" style="left:571.81px;top:1285.42px;font-size:8.6px;font-weight:700;color:#1d1d26;transform:scaleX(1.0500);transform-origin:50% 0;">INCOME</div>
<div class="t" style="left:341.80px;top:1317.08px;font-size:9px;color:#3a3d52;transform:scaleX(0.9525);transform-origin:0 0;">MISSOURI</div>
<div class="t" style="left:428.63px;top:1315.46px;font-size:12.8px;font-weight:700;color:#16161d;transform:scaleX(0.6800);transform-origin:100% 0;">1.5%</div>
<div class="t" style="left:465.06px;top:1315.46px;font-size:12.8px;font-weight:700;color:#16161d;transform:scaleX(0.6800);transform-origin:100% 0;">$1,000</div>
<div class="t" style="left:521.83px;top:1315.46px;font-size:12.8px;font-weight:700;color:#16161d;transform:scaleX(0.6800);transform-origin:100% 0;">6.0%</div>
<div class="t" style="left:563.16px;top:1315.46px;font-size:12.8px;font-weight:700;color:#16161d;transform:scaleX(0.6800);transform-origin:100% 0;">$9,000</div>
<div class="t" style="left:341.80px;top:1337.08px;font-size:9px;color:#3a3d52;transform:scaleX(1.0441);transform-origin:0 0;">MONTANA</div>
<div class="t" style="left:428.63px;top:1335.46px;font-size:12.8px;font-weight:700;color:#16161d;transform:scaleX(0.6800);transform-origin:100% 0;">1.0%</div>
<div class="t" style="left:465.06px;top:1335.46px;font-size:12.8px;font-weight:700;color:#16161d;transform:scaleX(0.6800);transform-origin:100% 0;">$2,900</div>
<div class="t" style="left:521.83px;top:1335.46px;font-size:12.8px;font-weight:700;color:#16161d;transform:scaleX(0.6800);transform-origin:100% 0;">6.9%</div>
<div class="t" style="left:556.03px;top:1335.46px;font-size:12.8px;font-weight:700;color:#16161d;transform:scaleX(0.6800);transform-origin:100% 0;">$17,400</div>
<div class="t" style="left:341.80px;top:1357.08px;font-size:9px;color:#3a3d52;transform:scaleX(1.0034);transform-origin:0 0;">NEBRASKA</div>
<div class="t" style="left:421.50px;top:1355.46px;font-size:12.8px;font-weight:700;color:#16161d;transform:scaleX(0.6800);transform-origin:100% 0;">2.46%</div>
<div class="t" style="left:465.06px;top:1355.46px;font-size:12.8px;font-weight:700;color:#16161d;transform:scaleX(0.6800);transform-origin:100% 0;">$3,060</div>
<div class="t" style="left:514.70px;top:1355.46px;font-size:12.8px;font-weight:700;color:#16161d;transform:scaleX(0.6800);transform-origin:100% 0;">6.84%</div>
<div class="t" style="left:556.03px;top:1355.46px;font-size:12.8px;font-weight:700;color:#16161d;transform:scaleX(0.6800);transform-origin:100% 0;">$29,590</div>
<div class="t" style="left:341.80px;top:1377.08px;font-size:9px;color:#3a3d52;transform:scaleX(0.9946);transform-origin:0 0;">NEW JERSEY</div>
<div class="t" style="left:428.63px;top:1375.46px;font-size:12.8px;font-weight:700;color:#16161d;transform:scaleX(0.6800);transform-origin:100% 0;">1.4%</div>
<div class="t" style="left:457.93px;top:1375.46px;font-size:12.8px;font-weight:700;color:#16161d;transform:scaleX(0.6800);transform-origin:100% 0;">$20,000</div>
<div class="t" style="left:514.70px;top:1375.46px;font-size:12.8px;font-weight:700;color:#16161d;transform:scaleX(0.6800);transform-origin:100% 0;">8.97%</div>
<div class="t" style="left:548.92px;top:1375.46px;font-size:12.8px;font-weight:700;color:#16161d;transform:scaleX(0.6800);transform-origin:100% 0;">$500,000</div>
<div class="t" style="left:341.80px;top:1397.08px;font-size:9px;color:#3a3d52;transform:scaleX(1.0031);transform-origin:0 0;">NEW MEXICO</div>
<div class="t" style="left:428.63px;top:1395.46px;font-size:12.8px;font-weight:700;color:#16161d;transform:scaleX(0.6800);transform-origin:100% 0;">1.7%</div>
<div class="t" style="left:465.06px;top:1395.46px;font-size:12.8px;font-weight:700;color:#16161d;transform:scaleX(0.6800);transform-origin:100% 0;">$5,500</div>
<div class="t" style="left:521.83px;top:1395.46px;font-size:12.8px;font-weight:700;color:#16161d;transform:scaleX(0.6800);transform-origin:100% 0;">4.9%</div>
<div class="t" style="left:556.03px;top:1395.46px;font-size:12.8px;font-weight:700;color:#16161d;transform:scaleX(0.6800);transform-origin:100% 0;">$16,000</div>
<div class="t" style="left:341.80px;top:1417.08px;font-size:9px;color:#3a3d52;transform:scaleX(1.0073);transform-origin:0 0;">NEW YORK</div>
<div class="t" style="left:428.63px;top:1415.46px;font-size:12.8px;font-weight:700;color:#16161d;transform:scaleX(0.6800);transform-origin:100% 0;">4.0%</div>
<div class="t" style="left:465.06px;top:1415.46px;font-size:12.8px;font-weight:700;color:#16161d;transform:scaleX(0.6800);transform-origin:100% 0;">$8,450</div>
<div class="t" style="left:514.70px;top:1415.46px;font-size:12.8px;font-weight:700;color:#16161d;transform:scaleX(0.6800);transform-origin:100% 0;">8.82%</div>
<div class="t" style="left:538.24px;top:1415.46px;font-size:12.8px;font-weight:700;color:#16161d;transform:scaleX(0.6800);transform-origin:100% 0;">$1,070,350</div>
<div class="t" style="left:341.80px;top:1437.08px;font-size:9px;color:#3a3d52;transform:scaleX(1.0073);transform-origin:0 0;">NORTH DAKOTA</div>
<div class="t" style="left:421.50px;top:1435.46px;font-size:12.8px;font-weight:700;color:#16161d;transform:scaleX(0.6800);transform-origin:100% 0;">1.10%</div>
<div class="t" style="left:457.93px;top:1435.46px;font-size:12.8px;font-weight:700;color:#16161d;transform:scaleX(0.6800);transform-origin:100% 0;">$37,450</div>
<div class="t" style="left:514.70px;top:1435.46px;font-size:12.8px;font-weight:700;color:#16161d;transform:scaleX(0.6800);transform-origin:100% 0;">2.90%</div>
<div class="t" style="left:549.63px;top:1435.46px;font-size:12.8px;font-weight:700;color:#16161d;transform:scaleX(0.6800);transform-origin:100% 0;">$411,500</div>
<div class="t" style="left:341.80px;top:1457.08px;font-size:9px;color:#3a3d52;transform:scaleX(1.0080);transform-origin:0 0;">OHIO</div>
<div class="t" style="left:428.63px;top:1455.46px;font-size:12.8px;font-weight:700;color:#16161d;transform:scaleX(0.6800);transform-origin:100% 0;">0.5%</div>
<div class="t" style="left:465.06px;top:1455.46px;font-size:12.8px;font-weight:700;color:#16161d;transform:scaleX(0.6800);transform-origin:100% 0;">$5,200</div>
<div class="t" style="left:521.83px;top:1455.46px;font-size:12.8px;font-weight:700;color:#16161d;transform:scaleX(0.6800);transform-origin:100% 0;">5.0%</div>
<div class="t" style="left:548.92px;top:1455.46px;font-size:12.8px;font-weight:700;color:#16161d;transform:scaleX(0.6800);transform-origin:100% 0;">$208,500</div>
<div class="t" style="left:341.80px;top:1477.08px;font-size:9px;color:#3a3d52;transform:scaleX(1.0428);transform-origin:0 0;">OKLAHOMA</div>
<div class="t" style="left:428.63px;top:1475.46px;font-size:12.8px;font-weight:700;color:#16161d;transform:scaleX(0.6800);transform-origin:100% 0;">0.5%</div>
<div class="t" style="left:465.06px;top:1475.46px;font-size:12.8px;font-weight:700;color:#16161d;transform:scaleX(0.6800);transform-origin:100% 0;">$1,000</div>
<div class="t" style="left:521.83px;top:1475.46px;font-size:12.8px;font-weight:700;color:#16161d;transform:scaleX(0.6800);transform-origin:100% 0;">5.0%</div>
<div class="t" style="left:563.16px;top:1475.46px;font-size:12.8px;font-weight:700;color:#16161d;transform:scaleX(0.6800);transform-origin:100% 0;">$7,200</div>
<div class="t" style="left:341.80px;top:1497.08px;font-size:9px;color:#3a3d52;transform:scaleX(0.9921);transform-origin:0 0;">OREGON</div>
<div class="t" style="left:428.63px;top:1495.46px;font-size:12.8px;font-weight:700;color:#16161d;transform:scaleX(0.6800);transform-origin:100% 0;">5.0%</div>
<div class="t" style="left:465.06px;top:1495.46px;font-size:12.8px;font-weight:700;color:#16161d;transform:scaleX(0.6800);transform-origin:100% 0;">$3,350</div>
<div class="t" style="left:521.83px;top:1495.46px;font-size:12.8px;font-weight:700;color:#16161d;transform:scaleX(0.6800);transform-origin:100% 0;">9.9%</div>
<div class="t" style="left:548.92px;top:1495.46px;font-size:12.8px;font-weight:700;color:#16161d;transform:scaleX(0.6800);transform-origin:100% 0;">$125,000</div>
<div class="t" style="left:341.80px;top:1517.08px;font-size:9px;color:#3a3d52;transform:scaleX(0.9953);transform-origin:0 0;">RHODE ISLAND</div>
<div class="t" style="left:421.50px;top:1515.46px;font-size:12.8px;font-weight:700;color:#16161d;transform:scaleX(0.6800);transform-origin:100% 0;">3.75%</div>
<div class="t" style="left:457.93px;top:1515.46px;font-size:12.8px;font-weight:700;color:#16161d;transform:scaleX(0.6800);transform-origin:100% 0;">$60,850</div>
<div class="t" style="left:514.70px;top:1515.46px;font-size:12.8px;font-weight:700;color:#16161d;transform:scaleX(0.6800);transform-origin:100% 0;">5.99%</div>
<div class="t" style="left:548.92px;top:1515.46px;font-size:12.8px;font-weight:700;color:#16161d;transform:scaleX(0.6800);transform-origin:100% 0;">$138,300</div>
<div class="t" style="left:341.80px;top:1537.08px;font-size:9px;color:#3a3d52;transform:scaleX(0.9961);transform-origin:0 0;">SOUTH CAROLINA</div>
<div class="t" style="left:428.63px;top:1535.46px;font-size:12.8px;font-weight:700;color:#16161d;transform:scaleX(0.6800);transform-origin:100% 0;">0.0%</div>
<div class="t" style="left:465.06px;top:1535.46px;font-size:12.8px;font-weight:700;color:#16161d;transform:scaleX(0.6800);transform-origin:100% 0;">$2,920</div>
<div class="t" style="left:521.83px;top:1535.46px;font-size:12.8px;font-weight:700;color:#16161d;transform:scaleX(0.6800);transform-origin:100% 0;">7.0%</div>
<div class="t" style="left:556.03px;top:1535.46px;font-size:12.8px;font-weight:700;color:#16161d;transform:scaleX(0.6800);transform-origin:100% 0;">$14,600</div>
<div class="t" style="left:341.80px;top:1557.08px;font-size:9px;color:#3a3d52;transform:scaleX(0.9933);transform-origin:0 0;">VERMONT</div>
<div class="t" style="left:421.50px;top:1555.46px;font-size:12.8px;font-weight:700;color:#16161d;transform:scaleX(0.6800);transform-origin:100% 0;">3.55%</div>
<div class="t" style="left:457.93px;top:1555.46px;font-size:12.8px;font-weight:700;color:#16161d;transform:scaleX(0.6800);transform-origin:100% 0;">$39,900</div>
<div class="t" style="left:514.70px;top:1555.46px;font-size:12.8px;font-weight:700;color:#16161d;transform:scaleX(0.6800);transform-origin:100% 0;">8.95%</div>
<div class="t" style="left:548.92px;top:1555.46px;font-size:12.8px;font-weight:700;color:#16161d;transform:scaleX(0.6800);transform-origin:100% 0;">$415,600</div>
<div class="t" style="left:341.80px;top:1577.08px;font-size:9px;color:#3a3d52;transform:scaleX(0.9794);transform-origin:0 0;">VIRGINIA</div>
<div class="t" style="left:428.63px;top:1575.46px;font-size:12.8px;font-weight:700;color:#16161d;transform:scaleX(0.6800);transform-origin:100% 0;">2.0%</div>
<div class="t" style="left:465.06px;top:1575.46px;font-size:12.8px;font-weight:700;color:#16161d;transform:scaleX(0.6800);transform-origin:100% 0;">$3,000</div>
<div class="t" style="left:514.70px;top:1575.46px;font-size:12.8px;font-weight:700;color:#16161d;transform:scaleX(0.6800);transform-origin:100% 0;">5.75%</div>
<div class="t" style="left:556.03px;top:1575.46px;font-size:12.8px;font-weight:700;color:#16161d;transform:scaleX(0.6800);transform-origin:100% 0;">$17,000</div>
<div class="t" style="left:341.80px;top:1597.08px;font-size:9px;color:#3a3d52;transform:scaleX(0.9831);transform-origin:0 0;">WEST VIRGINIA</div>
<div class="t" style="left:428.63px;top:1595.46px;font-size:12.8px;font-weight:700;color:#16161d;transform:scaleX(0.6800);transform-origin:100% 0;">3.0%</div>
<div class="t" style="left:457.93px;top:1595.46px;font-size:12.8px;font-weight:700;color:#16161d;transform:scaleX(0.6800);transform-origin:100% 0;">$10,000</div>
<div class="t" style="left:521.83px;top:1595.46px;font-size:12.8px;font-weight:700;color:#16161d;transform:scaleX(0.6800);transform-origin:100% 0;">6.5%</div>
<div class="t" style="left:556.03px;top:1595.46px;font-size:12.8px;font-weight:700;color:#16161d;transform:scaleX(0.6800);transform-origin:100% 0;">$60,000</div>
<div class="t" style="left:341.80px;top:1617.08px;font-size:9px;color:#3a3d52;transform:scaleX(0.9843);transform-origin:0 0;">WISCONSIN</div>
<div class="t" style="left:428.63px;top:1615.46px;font-size:12.8px;font-weight:700;color:#16161d;transform:scaleX(0.6800);transform-origin:100% 0;">4.0%</div>
<div class="t" style="left:458.64px;top:1615.46px;font-size:12.8px;font-weight:700;color:#16161d;transform:scaleX(0.6800);transform-origin:100% 0;">$11,150</div>
<div class="t" style="left:514.70px;top:1615.46px;font-size:12.8px;font-weight:700;color:#16161d;transform:scaleX(0.6800);transform-origin:100% 0;">7.65%</div>
<div class="t" style="left:548.92px;top:1615.46px;font-size:12.8px;font-weight:700;color:#16161d;transform:scaleX(0.6800);transform-origin:100% 0;">$244,750</div>
<div class="t" style="left:341.80px;top:1637.08px;font-size:9px;color:#3a3d52;transform:scaleX(0.8889);transform-origin:0 0;">D.C.</div>
<div class="t" style="left:428.63px;top:1635.46px;font-size:12.8px;font-weight:700;color:#16161d;transform:scaleX(0.6800);transform-origin:100% 0;">4.0%</div>
<div class="t" style="left:457.93px;top:1635.46px;font-size:12.8px;font-weight:700;color:#16161d;transform:scaleX(0.6800);transform-origin:100% 0;">$10,000</div>
<div class="t" style="left:514.70px;top:1635.46px;font-size:12.8px;font-weight:700;color:#16161d;transform:scaleX(0.6800);transform-origin:100% 0;">8.95%</div>
<div class="t" style="left:538.24px;top:1635.46px;font-size:12.8px;font-weight:700;color:#16161d;transform:scaleX(0.6800);transform-origin:100% 0;">$1,000,000</div>
<div class="t" style="left:25.00px;top:1663.21px;font-size:11.8px;transform:scaleX(0.7498);transform-origin:0 0;-webkit-text-stroke:0.2px #231f20;">SOURCE:</div>
<div class="t" style="left:68.90px;top:1663.21px;font-size:11.8px;font-weight:700;transform:scaleX(0.8349);transform-origin:0 0;">Tax Foundation</div>
<div class="t" style="left:84.43px;top:380.39px;font-size:11px;font-weight:700;color:#4a4c55;transform:scaleX(1.1200);transform-origin:50% 0;">WA</div>
<div class="t" style="left:66.55px;top:422.79px;font-size:11px;font-weight:700;color:#fff;transform:scaleX(1.1200);transform-origin:50% 0;">OR</div>
<div class="t" style="left:126.90px;top:444.79px;font-size:11px;font-weight:700;color:#fff;transform:scaleX(1.1200);transform-origin:50% 0;">ID</div>
<div class="t" style="left:179.35px;top:405.09px;font-size:11px;font-weight:700;color:#fff;transform:scaleX(1.1200);transform-origin:50% 0;">MT</div>
<div class="t" style="left:262.85px;top:410.09px;font-size:11px;font-weight:700;color:#fff;transform:scaleX(1.1200);transform-origin:50% 0;">ND</div>
<div class="t" style="left:317.65px;top:434.29px;font-size:11px;font-weight:700;color:#fff;transform:scaleX(1.1200);transform-origin:50% 0;">MN</div>
<div class="t" style="left:262.36px;top:451.29px;font-size:11px;font-weight:700;color:#4a4c55;transform:scaleX(1.1200);transform-origin:50% 0;">SD</div>
<div class="t" style="left:187.13px;top:464.09px;font-size:11px;font-weight:700;color:#4a4c55;transform:scaleX(1.1200);transform-origin:50% 0;">WY</div>
<div class="t" style="left:87.46px;top:496.29px;font-size:11px;font-weight:700;color:#4a4c55;transform:scaleX(1.1200);transform-origin:50% 0;">NV</div>
<div class="t" style="left:141.06px;top:510.79px;font-size:11px;font-weight:700;color:#fff;transform:scaleX(1.1200);transform-origin:50% 0;">UT</div>
<div class="t" style="left:199.65px;top:519.39px;font-size:11px;font-weight:700;color:#fff;transform:scaleX(1.1200);transform-origin:50% 0;">CO</div>
<div class="t" style="left:52.05px;top:529.79px;font-size:11px;font-weight:700;color:#fff;transform:scaleX(1.1200);transform-origin:50% 0;">CA</div>
<div class="t" style="left:128.66px;top:576.59px;font-size:11px;font-weight:700;color:#fff;transform:scaleX(1.1200);transform-origin:50% 0;">AZ</div>
<div class="t" style="left:189.15px;top:576.39px;font-size:11px;font-weight:700;color:#fff;transform:scaleX(1.1200);transform-origin:50% 0;">NM</div>
<div class="t" style="left:268.96px;top:493.19px;font-size:11px;font-weight:700;color:#fff;transform:scaleX(1.1200);transform-origin:50% 0;">NE</div>
<div class="t" style="left:280.36px;top:531.79px;font-size:11px;font-weight:700;color:#fff;transform:scaleX(1.1200);transform-origin:50% 0;">KS</div>
<div class="t" style="left:290.95px;top:571.89px;font-size:11px;font-weight:700;color:#fff;transform:scaleX(1.1200);transform-origin:50% 0;">OK</div>
<div class="t" style="left:269.37px;top:625.79px;font-size:11px;font-weight:700;color:#4a4c55;transform:scaleX(1.1200);transform-origin:50% 0;">TX</div>
<div class="t" style="left:333.30px;top:486.09px;font-size:11px;font-weight:700;color:#fff;transform:scaleX(1.1200);transform-origin:50% 0;">IA</div>
<div class="t" style="left:342.13px;top:533.29px;font-size:11px;font-weight:700;color:#fff;transform:scaleX(1.1200);transform-origin:50% 0;">MO</div>
<div class="t" style="left:343.25px;top:580.09px;font-size:11px;font-weight:700;color:#fff;transform:scaleX(1.1200);transform-origin:50% 0;">AR</div>
<div class="t" style="left:343.76px;top:616.39px;font-size:11px;font-weight:700;color:#fff;transform:scaleX(1.1200);transform-origin:50% 0;">LA</div>
<div class="t" style="left:365.97px;top:450.69px;font-size:11px;font-weight:700;color:#fff;transform:scaleX(1.1200);transform-origin:50% 0;">WI</div>
<div class="t" style="left:379.21px;top:505.79px;font-size:11px;font-weight:700;color:#fff;transform:scaleX(1.1200);transform-origin:50% 0;">IL</div>
<div class="t" style="left:419.88px;top:468.39px;font-size:11px;font-weight:700;color:#fff;transform:scaleX(1.1200);transform-origin:50% 0;">MI</div>
<div class="t" style="left:410.30px;top:505.79px;font-size:11px;font-weight:700;color:#fff;transform:scaleX(1.1200);transform-origin:50% 0;">IN</div>
<div class="t" style="left:442.35px;top:501.69px;font-size:11px;font-weight:700;color:#fff;transform:scaleX(1.1200);transform-origin:50% 0;">OH</div>
<div class="t" style="left:429.56px;top:537.89px;font-size:11px;font-weight:700;color:#fff;transform:scaleX(1.1200);transform-origin:50% 0;">KY</div>
<div class="t" style="left:410.96px;top:564.99px;font-size:11px;font-weight:700;color:#4a4c55;transform:scaleX(1.1200);transform-origin:50% 0;">TN</div>
<div class="t" style="left:377.35px;top:606.39px;font-size:11px;font-weight:700;color:#fff;transform:scaleX(1.1200);transform-origin:50% 0;">MS</div>
<div class="t" style="left:412.76px;top:605.89px;font-size:11px;font-weight:700;color:#fff;transform:scaleX(1.1200);transform-origin:50% 0;">AL</div>
<div class="t" style="left:447.95px;top:602.59px;font-size:11px;font-weight:700;color:#fff;transform:scaleX(1.1200);transform-origin:50% 0;">GA</div>
<div class="t" style="left:475.57px;top:655.39px;font-size:11px;font-weight:700;color:#4a4c55;transform:scaleX(1.1200);transform-origin:50% 0;">FL</div>
<div class="t" style="left:475.56px;top:581.89px;font-size:11px;font-weight:700;color:#fff;transform:scaleX(1.1200);transform-origin:50% 0;">SC</div>
<div class="t" style="left:494.95px;top:556.69px;font-size:11px;font-weight:700;color:#fff;transform:scaleX(1.1200);transform-origin:50% 0;">NC</div>
<div class="t" style="left:494.67px;top:527.09px;font-size:11px;font-weight:700;color:#fff;transform:scaleX(1.1200);transform-origin:50% 0;">VA</div>
<div class="t" style="left:461.73px;top:526.39px;font-size:11px;font-weight:700;color:#fff;transform:scaleX(1.1200);transform-origin:50% 0;">WV</div>
<div class="t" style="left:492.87px;top:483.59px;font-size:11px;font-weight:700;color:#fff;transform:scaleX(1.1200);transform-origin:50% 0;">PA</div>
<div class="t" style="left:511.66px;top:450.29px;font-size:11px;font-weight:700;color:#fff;transform:scaleX(1.1200);transform-origin:50% 0;">NY</div>
<div class="t" style="left:559.15px;top:401.79px;font-size:11px;font-weight:700;color:#fff;transform:scaleX(1.1200);transform-origin:50% 0;">ME</div>
<div class="t" style="left:106.55px;top:662.39px;font-size:11px;font-weight:700;color:#4a4c55;transform:scaleX(1.1200);transform-origin:50% 0;">AK</div>
<div class="t" style="left:520.40px;top:383.99px;font-size:11px;font-weight:700;color:#3b3f50;transform:scaleX(1.1200);transform-origin:0 0;">NH</div>
<div class="t" style="left:509.50px;top:402.19px;font-size:11px;font-weight:700;color:#3b3f50;transform:scaleX(1.1200);transform-origin:0 0;">VT</div>
<div class="t" style="left:582.30px;top:444.39px;font-size:11px;font-weight:700;color:#3b3f50;transform:scaleX(1.1200);transform-origin:0 0;">MA</div>
<div class="t" style="left:582.30px;top:460.39px;font-size:11px;font-weight:700;color:#3b3f50;transform:scaleX(1.1200);transform-origin:0 0;">RI</div>
<div class="t" style="left:582.30px;top:475.59px;font-size:11px;font-weight:700;color:#3b3f50;transform:scaleX(1.1200);transform-origin:0 0;">CT</div>
<div class="t" style="left:582.30px;top:491.29px;font-size:11px;font-weight:700;color:#3b3f50;transform:scaleX(1.1200);transform-origin:0 0;">NJ</div>
<div class="t" style="left:582.30px;top:507.79px;font-size:11px;font-weight:700;color:#3b3f50;transform:scaleX(1.1200);transform-origin:0 0;">DE</div>
<div class="t" style="left:582.30px;top:523.79px;font-size:11px;font-weight:700;color:#3b3f50;transform:scaleX(1.1200);transform-origin:0 0;">MD</div>
</body></html>
